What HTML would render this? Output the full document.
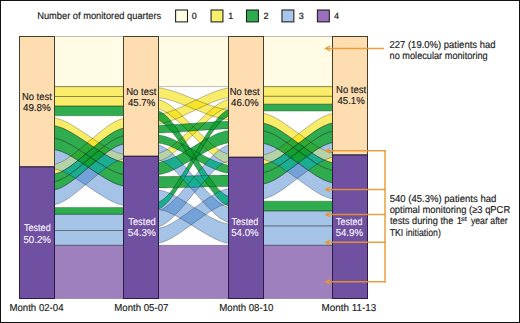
<!DOCTYPE html>
<html><head><meta charset="utf-8"><style>html,body{margin:0;padding:0;background:#fff;overflow:hidden;}svg{display:block;}</style></head>
<body><svg width="520" height="323" viewBox="0 0 520 323">
<style>
text{font-family:"Liberation Sans",sans-serif;font-size:9.5px;text-rendering:geometricPrecision;}
.lb{text-anchor:middle;}
.dk{fill:#222;stroke:#222;stroke-width:0.15px;}
.wt{fill:#f8f4fc;stroke:#f8f4fc;stroke-width:0.1px;}
.f path{fill:none;stroke:#000;stroke-opacity:0.5;stroke-width:0.5;}
</style>
<rect x="0" y="0" width="520" height="323" fill="#fff"/>
<defs><clipPath id="c0NNNT"><path d="M53.5,86.60H124.5V96.50H53.5Z"/></clipPath><clipPath id="c0NNTN"><path d="M53.5,96.50H124.5V106.00H53.5Z"/></clipPath><clipPath id="c0NTNN"><path d="M53.5,117.6 57.3,118.5 60.7,119.5 64.1,120.9 67.5,122.5 71.2,124.6 75.2,127.0 79.6,129.8 84.2,132.8 89.0,136.0 93.8,139.3 98.4,142.3 102.8,145.1 106.8,147.5 110.5,149.5 113.9,151.2 117.3,152.6 120.7,153.6 124.5,154.5 124.5,162.4 120.7,161.5 117.3,160.5 113.9,159.1 110.5,157.5 106.8,155.4 102.8,153.0 98.4,150.2 93.8,147.2 89.0,143.9 84.2,140.7 79.6,137.7 75.2,134.9 71.2,132.5 67.5,130.5 64.1,128.8 60.7,127.4 57.3,126.4 53.5,125.5Z"/></clipPath><clipPath id="c0TNNN"><path d="M53.5,164.6 57.3,163.5 60.7,162.2 64.1,160.5 67.5,158.4 71.2,155.8 75.2,152.8 79.6,149.3 84.2,145.4 89.0,141.3 93.8,137.3 98.4,133.4 102.8,129.9 106.8,126.9 110.5,124.3 113.9,122.2 117.3,120.5 120.7,119.2 124.5,118.1 124.5,127.8 120.7,128.9 117.3,130.2 113.9,131.9 110.5,134.0 106.8,136.6 102.8,139.6 98.4,143.1 93.8,147.0 89.0,151.0 84.2,155.1 79.6,159.0 75.2,162.5 71.2,165.5 67.5,168.1 64.1,170.2 60.7,171.9 57.3,173.2 53.5,174.3Z"/></clipPath><clipPath id="c0NNTT"><path d="M53.5,106.00H124.5V115.80H53.5Z"/></clipPath><clipPath id="c0NTNT"><path d="M53.5,125.5 57.3,126.4 60.7,127.4 64.1,128.8 67.5,130.5 71.2,132.5 75.2,134.9 79.6,137.7 84.2,140.7 89.0,143.9 93.8,147.2 98.4,150.2 102.8,153.0 106.8,155.4 110.5,157.5 113.9,159.1 117.3,160.5 120.7,161.5 124.5,162.4 124.5,174.8 120.7,173.9 117.3,172.9 113.9,171.5 110.5,169.8 106.8,167.8 102.8,165.4 98.4,162.6 93.8,159.6 89.0,156.3 84.2,153.1 79.6,150.1 75.2,147.3 71.2,144.9 67.5,142.8 64.1,141.2 60.7,139.8 57.3,138.8 53.5,137.9Z"/></clipPath><clipPath id="c0NTTN"><path d="M53.5,137.9 57.3,138.8 60.7,139.8 64.1,141.2 67.5,142.8 71.2,144.9 75.2,147.3 79.6,150.1 84.2,153.1 89.0,156.3 93.8,159.6 98.4,162.6 102.8,165.4 106.8,167.8 110.5,169.8 113.9,171.5 117.3,172.9 120.7,173.9 124.5,174.8 124.5,186.2 120.7,185.3 117.3,184.3 113.9,182.9 110.5,181.2 106.8,179.2 102.8,176.8 98.4,174.0 93.8,171.0 89.0,167.8 84.2,164.5 79.6,161.5 75.2,158.7 71.2,156.3 67.5,154.2 64.1,152.6 60.7,151.2 57.3,150.2 53.5,149.3Z"/></clipPath><clipPath id="c0TNNT"><path d="M53.5,174.3 57.3,173.2 60.7,171.9 64.1,170.2 67.5,168.1 71.2,165.5 75.2,162.5 79.6,159.0 84.2,155.1 89.0,151.0 93.8,147.0 98.4,143.1 102.8,139.6 106.8,136.6 110.5,134.0 113.9,131.9 117.3,130.2 120.7,128.9 124.5,127.8 124.5,135.5 120.7,136.6 117.3,137.9 113.9,139.6 110.5,141.7 106.8,144.3 102.8,147.3 98.4,150.8 93.8,154.7 89.0,158.7 84.2,162.8 79.6,166.7 75.2,170.2 71.2,173.2 67.5,175.8 64.1,177.9 60.7,179.6 57.3,180.9 53.5,182.0Z"/></clipPath><clipPath id="c0TNTN"><path d="M53.5,182.0 57.3,180.9 60.7,179.6 64.1,177.9 67.5,175.8 71.2,173.2 75.2,170.2 79.6,166.7 84.2,162.8 89.0,158.7 93.8,154.7 98.4,150.8 102.8,147.3 106.8,144.3 110.5,141.7 113.9,139.6 117.3,137.9 120.7,136.6 124.5,135.5 124.5,143.7 120.7,144.8 117.3,146.1 113.9,147.8 110.5,149.9 106.8,152.5 102.8,155.5 98.4,159.0 93.8,162.9 89.0,166.9 84.2,171.0 79.6,174.9 75.2,178.4 71.2,181.4 67.5,184.0 64.1,186.1 60.7,187.8 57.3,189.1 53.5,190.2Z"/></clipPath><clipPath id="c0TTNN"><path d="M53.5,207.40H124.5V214.30H53.5Z"/></clipPath><clipPath id="c1NNNT"><path d="M157.7,87.7 161.5,88.2 165.0,88.9 168.4,89.7 171.8,90.7 175.5,91.9 179.6,93.4 184.0,95.1 188.7,96.9 193.5,98.9 198.3,100.8 203.0,102.6 207.4,104.3 211.5,105.8 215.2,107.0 218.6,108.0 222.0,108.8 225.5,109.5 229.3,110.0 229.3,119.9 225.5,119.4 222.0,118.7 218.6,117.9 215.2,116.9 211.5,115.7 207.4,114.2 203.0,112.5 198.3,110.7 193.5,108.8 188.7,106.8 184.0,105.0 179.6,103.3 175.5,101.8 171.8,100.6 168.4,99.6 165.0,98.8 161.5,98.1 157.7,97.6Z"/></clipPath><clipPath id="c1NNTN"><path d="M157.7,99.3 161.5,100.5 165.0,102.1 168.4,104.1 171.8,106.6 175.5,109.7 179.6,113.3 184.0,117.5 188.7,122.1 193.5,126.9 198.3,131.7 203.0,136.3 207.4,140.5 211.5,144.1 215.2,147.2 218.6,149.7 222.0,151.7 225.5,153.3 229.3,154.5 229.3,164.0 225.5,162.8 222.0,161.2 218.6,159.2 215.2,156.7 211.5,153.6 207.4,150.0 203.0,145.8 198.3,141.2 193.5,136.4 188.7,131.6 184.0,127.0 179.6,122.8 175.5,119.2 171.8,116.1 168.4,113.6 165.0,111.6 161.5,110.0 157.7,108.8Z"/></clipPath><clipPath id="c1NTNN"><path d="M157.7,153.6 161.5,152.3 165.0,150.8 168.4,148.8 171.8,146.3 175.5,143.3 179.6,139.7 184.0,135.6 188.7,131.1 193.5,126.3 198.3,121.5 203.0,117.0 207.4,112.9 211.5,109.3 215.2,106.3 218.6,103.8 222.0,101.8 225.5,100.3 229.3,99.0 229.3,106.9 225.5,108.2 222.0,109.7 218.6,111.7 215.2,114.2 211.5,117.2 207.4,120.8 203.0,124.9 198.3,129.4 193.5,134.2 188.7,139.0 184.0,143.5 179.6,147.6 175.5,151.2 171.8,154.2 168.4,156.7 165.0,158.7 161.5,160.2 157.7,161.5Z"/></clipPath><clipPath id="c1TNNN"><path d="M157.7,114.5 161.5,113.9 165.0,113.1 168.4,112.1 171.8,110.9 175.5,109.5 179.6,107.7 184.0,105.7 188.7,103.5 193.5,101.2 198.3,98.9 203.0,96.7 207.4,94.7 211.5,92.9 215.2,91.5 218.6,90.3 222.0,89.3 225.5,88.5 229.3,87.9 229.3,97.6 225.5,98.2 222.0,99.0 218.6,100.0 215.2,101.2 211.5,102.6 207.4,104.4 203.0,106.4 198.3,108.6 193.5,110.9 188.7,113.2 184.0,115.4 179.6,117.4 175.5,119.2 171.8,120.6 168.4,121.8 165.0,122.8 161.5,123.6 157.7,124.2Z"/></clipPath><clipPath id="c1NNTT"><path d="M157.7,110.3 161.5,112.3 165.0,114.8 168.4,117.9 171.8,121.9 175.5,126.7 179.6,132.4 184.0,138.9 188.7,146.1 193.5,153.6 198.3,161.1 203.0,168.3 207.4,174.8 211.5,180.5 215.2,185.3 218.6,189.3 222.0,192.4 225.5,194.9 229.3,196.9 229.3,206.7 225.5,204.7 222.0,202.2 218.6,199.1 215.2,195.1 211.5,190.3 207.4,184.6 203.0,178.1 198.3,170.9 193.5,163.4 188.7,155.9 184.0,148.7 179.6,142.2 175.5,136.5 171.8,131.7 168.4,127.7 165.0,124.6 161.5,122.1 157.7,120.1Z"/></clipPath><clipPath id="c1NTNT"><path d="M157.7,162.6 161.5,161.8 165.0,160.9 168.4,159.8 171.8,158.3 175.5,156.5 179.6,154.4 184.0,151.9 188.7,149.3 193.5,146.4 198.3,143.6 203.0,141.0 207.4,138.5 211.5,136.4 215.2,134.6 218.6,133.1 222.0,132.0 225.5,131.1 229.3,130.3 229.3,142.7 225.5,143.5 222.0,144.4 218.6,145.5 215.2,147.0 211.5,148.8 207.4,150.9 203.0,153.4 198.3,156.0 193.5,158.8 188.7,161.7 184.0,164.3 179.6,166.8 175.5,168.9 171.8,170.7 168.4,172.2 165.0,173.3 161.5,174.2 157.7,175.0Z"/></clipPath><clipPath id="c1NTTN"><path d="M157.7,176.5 161.5,176.5 165.0,176.5 168.4,176.4 171.8,176.3 175.5,176.3 179.6,176.2 184.0,176.0 188.7,175.9 193.5,175.8 198.3,175.7 203.0,175.6 207.4,175.4 211.5,175.3 215.2,175.3 218.6,175.2 222.0,175.1 225.5,175.1 229.3,175.1 229.3,186.5 225.5,186.5 222.0,186.5 218.6,186.6 215.2,186.7 211.5,186.7 207.4,186.8 203.0,187.0 198.3,187.1 193.5,187.2 188.7,187.3 184.0,187.4 179.6,187.6 175.5,187.7 171.8,187.7 168.4,187.8 165.0,187.9 161.5,187.9 157.7,187.9Z"/></clipPath><clipPath id="c1TNNT"><path d="M157.7,125.3 161.5,125.2 165.0,125.1 168.4,124.9 171.8,124.8 175.5,124.5 179.6,124.3 184.0,123.9 188.7,123.6 193.5,123.2 198.3,122.9 203.0,122.6 207.4,122.2 211.5,122.0 215.2,121.8 218.6,121.6 222.0,121.4 225.5,121.3 229.3,121.2 229.3,128.9 225.5,129.0 222.0,129.1 218.6,129.3 215.2,129.5 211.5,129.7 207.4,129.9 203.0,130.3 198.3,130.6 193.5,130.9 188.7,131.3 184.0,131.6 179.6,132.0 175.5,132.2 171.8,132.5 168.4,132.6 165.0,132.8 161.5,132.9 157.7,133.0Z"/></clipPath><clipPath id="c1TNTN"><path d="M157.7,134.7 161.5,135.4 165.0,136.3 168.4,137.4 171.8,138.8 175.5,140.5 179.6,142.5 184.0,144.8 188.7,147.3 193.5,150.0 198.3,152.7 203.0,155.2 207.4,157.5 211.5,159.5 215.2,161.2 218.6,162.6 222.0,163.7 225.5,164.6 229.3,165.3 229.3,173.5 225.5,172.8 222.0,171.9 218.6,170.8 215.2,169.4 211.5,167.7 207.4,165.7 203.0,163.4 198.3,160.9 193.5,158.2 188.7,155.5 184.0,153.0 179.6,150.7 175.5,148.7 171.8,147.0 168.4,145.6 165.0,144.5 161.5,143.6 157.7,142.9Z"/></clipPath><clipPath id="c1TTNN"><path d="M157.7,202.7 161.5,200.6 165.0,197.9 168.4,194.5 171.8,190.2 175.5,185.0 179.6,178.8 184.0,171.8 188.7,164.0 193.5,155.8 198.3,147.6 203.0,139.8 207.4,132.8 211.5,126.6 215.2,121.4 218.6,117.1 222.0,113.7 225.5,111.0 229.3,108.9 229.3,115.8 225.5,117.9 222.0,120.6 218.6,124.0 215.2,128.3 211.5,133.5 207.4,139.7 203.0,146.7 198.3,154.5 193.5,162.7 188.7,170.9 184.0,178.7 179.6,185.7 175.5,191.9 171.8,197.1 168.4,201.4 165.0,204.8 161.5,207.5 157.7,209.6Z"/></clipPath><clipPath id="c2NNNT"><path d="M262.5,113.1 266.3,114.0 269.7,115.2 273.1,116.6 276.5,118.4 280.2,120.6 284.2,123.3 288.6,126.3 293.2,129.6 298.0,133.1 302.8,136.5 307.4,139.8 311.8,142.8 315.8,145.5 319.5,147.7 322.9,149.5 326.3,150.9 329.7,152.1 333.5,153.0 333.5,162.9 329.7,162.0 326.3,160.8 322.9,159.4 319.5,157.6 315.8,155.4 311.8,152.7 307.4,149.7 302.8,146.4 298.0,143.0 293.2,139.5 288.6,136.2 284.2,133.2 280.2,130.5 276.5,128.3 273.1,126.5 269.7,125.1 266.3,123.9 262.5,123.0Z"/></clipPath><clipPath id="c2NNTN"><path d="M262.5,155.2 266.3,154.2 269.7,153.0 273.1,151.5 276.5,149.6 280.2,147.3 284.2,144.5 288.6,141.3 293.2,137.9 298.0,134.2 302.8,130.5 307.4,127.1 311.8,123.9 315.8,121.1 319.5,118.8 322.9,116.9 326.3,115.4 329.7,114.2 333.5,113.2 333.5,122.7 329.7,123.7 326.3,124.9 322.9,126.4 319.5,128.3 315.8,130.6 311.8,133.4 307.4,136.6 302.8,140.0 298.0,143.7 293.2,147.4 288.6,150.8 284.2,154.0 280.2,156.8 276.5,159.1 273.1,161.0 269.7,162.5 266.3,163.7 262.5,164.7Z"/></clipPath><clipPath id="c2NTNN"><path d="M262.5,96.30H333.5V104.20H262.5Z"/></clipPath><clipPath id="c2TNNN"><path d="M262.5,86.60H333.5V96.30H262.5Z"/></clipPath><clipPath id="c2NNTT"><path d="M262.5,201.20H333.5V211.00H262.5Z"/></clipPath><clipPath id="c2NTNT"><path d="M262.5,130.7 266.3,131.6 269.7,132.8 273.1,134.2 276.5,136.0 280.2,138.2 284.2,140.9 288.6,143.9 293.2,147.2 298.0,150.7 302.8,154.1 307.4,157.4 311.8,160.4 315.8,163.1 319.5,165.3 322.9,167.1 326.3,168.5 329.7,169.7 333.5,170.6 333.5,183.0 329.7,182.1 326.3,180.9 322.9,179.5 319.5,177.7 315.8,175.5 311.8,172.8 307.4,169.8 302.8,166.5 298.0,163.1 293.2,159.6 288.6,156.3 284.2,153.3 280.2,150.6 276.5,148.4 273.1,146.6 269.7,145.2 266.3,144.0 262.5,143.1Z"/></clipPath><clipPath id="c2NTTN"><path d="M262.5,172.9 266.3,171.9 269.7,170.7 273.1,169.2 276.5,167.3 280.2,165.0 284.2,162.2 288.6,159.0 293.2,155.6 298.0,151.9 302.8,148.2 307.4,144.8 311.8,141.6 315.8,138.8 319.5,136.5 322.9,134.6 326.3,133.1 329.7,131.9 333.5,130.9 333.5,142.3 329.7,143.3 326.3,144.5 322.9,146.0 319.5,147.9 315.8,150.2 311.8,153.0 307.4,156.2 302.8,159.6 298.0,163.3 293.2,167.0 288.6,170.4 284.2,173.6 280.2,176.4 276.5,178.7 273.1,180.6 269.7,182.1 266.3,183.3 262.5,184.3Z"/></clipPath><clipPath id="c2TNNT"><path d="M262.5,123.0 266.3,123.9 269.7,125.1 273.1,126.5 276.5,128.3 280.2,130.5 284.2,133.2 288.6,136.2 293.2,139.5 298.0,143.0 302.8,146.4 307.4,149.7 311.8,152.7 315.8,155.4 319.5,157.6 322.9,159.4 326.3,160.8 329.7,162.0 333.5,162.9 333.5,170.6 329.7,169.7 326.3,168.5 322.9,167.1 319.5,165.3 315.8,163.1 311.8,160.4 307.4,157.4 302.8,154.1 298.0,150.7 293.2,147.2 288.6,143.9 284.2,140.9 280.2,138.2 276.5,136.0 273.1,134.2 269.7,132.8 266.3,131.6 262.5,130.7Z"/></clipPath><clipPath id="c2TNTN"><path d="M262.5,164.7 266.3,163.7 269.7,162.5 273.1,161.0 276.5,159.1 280.2,156.8 284.2,154.0 288.6,150.8 293.2,147.4 298.0,143.7 302.8,140.0 307.4,136.6 311.8,133.4 315.8,130.6 319.5,128.3 322.9,126.4 326.3,124.9 329.7,123.7 333.5,122.7 333.5,130.9 329.7,131.9 326.3,133.1 322.9,134.6 319.5,136.5 315.8,138.8 311.8,141.6 307.4,144.8 302.8,148.2 298.0,151.9 293.2,155.6 288.6,159.0 284.2,162.2 280.2,165.0 276.5,167.3 273.1,169.2 269.7,170.7 266.3,171.9 262.5,172.9Z"/></clipPath><clipPath id="c2TTNN"><path d="M262.5,104.20H333.5V111.10H262.5Z"/></clipPath></defs>
<g><path d="M53.5,36.50H124.5V86.60H53.5Z" fill="#fff7cb" fill-opacity="0.5"/><path d="M53.5,86.60H124.5V96.50H53.5Z" fill="#f5df03" fill-opacity="0.6"/><path d="M53.5,96.50H124.5V106.00H53.5Z" fill="#f5df03" fill-opacity="0.6"/><path d="M53.5,117.6 57.3,118.5 60.7,119.5 64.1,120.9 67.5,122.5 71.2,124.6 75.2,127.0 79.6,129.8 84.2,132.8 89.0,136.0 93.8,139.3 98.4,142.3 102.8,145.1 106.8,147.5 110.5,149.5 113.9,151.2 117.3,152.6 120.7,153.6 124.5,154.5 124.5,162.4 120.7,161.5 117.3,160.5 113.9,159.1 110.5,157.5 106.8,155.4 102.8,153.0 98.4,150.2 93.8,147.2 89.0,143.9 84.2,140.7 79.6,137.7 75.2,134.9 71.2,132.5 67.5,130.5 64.1,128.8 60.7,127.4 57.3,126.4 53.5,125.5Z" fill="#f5df03" fill-opacity="0.6"/><path d="M53.5,164.6 57.3,163.5 60.7,162.2 64.1,160.5 67.5,158.4 71.2,155.8 75.2,152.8 79.6,149.3 84.2,145.4 89.0,141.3 93.8,137.3 98.4,133.4 102.8,129.9 106.8,126.9 110.5,124.3 113.9,122.2 117.3,120.5 120.7,119.2 124.5,118.1 124.5,127.8 120.7,128.9 117.3,130.2 113.9,131.9 110.5,134.0 106.8,136.6 102.8,139.6 98.4,143.1 93.8,147.0 89.0,151.0 84.2,155.1 79.6,159.0 75.2,162.5 71.2,165.5 67.5,168.1 64.1,170.2 60.7,171.9 57.3,173.2 53.5,174.3Z" fill="#f5df03" fill-opacity="0.6"/><path d="M53.5,106.00H124.5V115.80H53.5Z" fill="#0b9d2f" fill-opacity="0.85"/><path d="M53.5,125.5 57.3,126.4 60.7,127.4 64.1,128.8 67.5,130.5 71.2,132.5 75.2,134.9 79.6,137.7 84.2,140.7 89.0,143.9 93.8,147.2 98.4,150.2 102.8,153.0 106.8,155.4 110.5,157.5 113.9,159.1 117.3,160.5 120.7,161.5 124.5,162.4 124.5,174.8 120.7,173.9 117.3,172.9 113.9,171.5 110.5,169.8 106.8,167.8 102.8,165.4 98.4,162.6 93.8,159.6 89.0,156.3 84.2,153.1 79.6,150.1 75.2,147.3 71.2,144.9 67.5,142.8 64.1,141.2 60.7,139.8 57.3,138.8 53.5,137.9Z" fill="#0b9d2f" fill-opacity="0.85"/><path d="M53.5,137.9 57.3,138.8 60.7,139.8 64.1,141.2 67.5,142.8 71.2,144.9 75.2,147.3 79.6,150.1 84.2,153.1 89.0,156.3 93.8,159.6 98.4,162.6 102.8,165.4 106.8,167.8 110.5,169.8 113.9,171.5 117.3,172.9 120.7,173.9 124.5,174.8 124.5,186.2 120.7,185.3 117.3,184.3 113.9,182.9 110.5,181.2 106.8,179.2 102.8,176.8 98.4,174.0 93.8,171.0 89.0,167.8 84.2,164.5 79.6,161.5 75.2,158.7 71.2,156.3 67.5,154.2 64.1,152.6 60.7,151.2 57.3,150.2 53.5,149.3Z" fill="#0b9d2f" fill-opacity="0.85"/><path d="M53.5,174.3 57.3,173.2 60.7,171.9 64.1,170.2 67.5,168.1 71.2,165.5 75.2,162.5 79.6,159.0 84.2,155.1 89.0,151.0 93.8,147.0 98.4,143.1 102.8,139.6 106.8,136.6 110.5,134.0 113.9,131.9 117.3,130.2 120.7,128.9 124.5,127.8 124.5,135.5 120.7,136.6 117.3,137.9 113.9,139.6 110.5,141.7 106.8,144.3 102.8,147.3 98.4,150.8 93.8,154.7 89.0,158.7 84.2,162.8 79.6,166.7 75.2,170.2 71.2,173.2 67.5,175.8 64.1,177.9 60.7,179.6 57.3,180.9 53.5,182.0Z" fill="#0b9d2f" fill-opacity="0.85"/><path d="M53.5,182.0 57.3,180.9 60.7,179.6 64.1,177.9 67.5,175.8 71.2,173.2 75.2,170.2 79.6,166.7 84.2,162.8 89.0,158.7 93.8,154.7 98.4,150.8 102.8,147.3 106.8,144.3 110.5,141.7 113.9,139.6 117.3,137.9 120.7,136.6 124.5,135.5 124.5,143.7 120.7,144.8 117.3,146.1 113.9,147.8 110.5,149.9 106.8,152.5 102.8,155.5 98.4,159.0 93.8,162.9 89.0,166.9 84.2,171.0 79.6,174.9 75.2,178.4 71.2,181.4 67.5,184.0 64.1,186.1 60.7,187.8 57.3,189.1 53.5,190.2Z" fill="#0b9d2f" fill-opacity="0.85"/><path d="M53.5,207.40H124.5V214.30H53.5Z" fill="#0b9d2f" fill-opacity="0.85"/><path d="M53.5,149.3 57.3,150.2 60.7,151.2 64.1,152.6 67.5,154.2 71.2,156.3 75.2,158.7 79.6,161.5 84.2,164.5 89.0,167.8 93.8,171.0 98.4,174.0 102.8,176.8 106.8,179.2 110.5,181.2 113.9,182.9 117.3,184.3 120.7,185.3 124.5,186.2 124.5,205.6 120.7,204.7 117.3,203.7 113.9,202.3 110.5,200.7 106.8,198.6 102.8,196.2 98.4,193.4 93.8,190.4 89.0,187.2 84.2,183.9 79.6,180.9 75.2,178.1 71.2,175.7 67.5,173.7 64.1,172.0 60.7,170.6 57.3,169.6 53.5,168.7Z" fill="#377ac7" fill-opacity="0.45"/><path d="M53.5,190.2 57.3,189.1 60.7,187.8 64.1,186.1 67.5,184.0 71.2,181.4 75.2,178.4 79.6,174.9 84.2,171.0 89.0,166.9 93.8,162.9 98.4,159.0 102.8,155.5 106.8,152.5 110.5,149.9 113.9,147.8 117.3,146.1 120.7,144.8 124.5,143.7 124.5,158.6 120.7,159.7 117.3,161.0 113.9,162.7 110.5,164.8 106.8,167.4 102.8,170.4 98.4,173.9 93.8,177.8 89.0,181.8 84.2,185.9 79.6,189.8 75.2,193.3 71.2,196.3 67.5,198.9 64.1,201.0 60.7,202.7 57.3,204.0 53.5,205.1Z" fill="#377ac7" fill-opacity="0.45"/><path d="M53.5,214.30H124.5V230.50H53.5Z" fill="#377ac7" fill-opacity="0.45"/><path d="M53.5,230.50H124.5V245.30H53.5Z" fill="#377ac7" fill-opacity="0.45"/><path d="M53.5,245.30H124.5V298.50H53.5Z" fill="#5d2b93" fill-opacity="0.6"/><path d="M157.5,36.50H229.5V86.60H157.5Z" fill="#fff7cb" fill-opacity="0.5"/><path d="M157.7,87.7 161.5,88.2 165.0,88.9 168.4,89.7 171.8,90.7 175.5,91.9 179.6,93.4 184.0,95.1 188.7,96.9 193.5,98.9 198.3,100.8 203.0,102.6 207.4,104.3 211.5,105.8 215.2,107.0 218.6,108.0 222.0,108.8 225.5,109.5 229.3,110.0 229.3,119.9 225.5,119.4 222.0,118.7 218.6,117.9 215.2,116.9 211.5,115.7 207.4,114.2 203.0,112.5 198.3,110.7 193.5,108.8 188.7,106.8 184.0,105.0 179.6,103.3 175.5,101.8 171.8,100.6 168.4,99.6 165.0,98.8 161.5,98.1 157.7,97.6Z" fill="#f5df03" fill-opacity="0.6"/><path d="M157.7,99.3 161.5,100.5 165.0,102.1 168.4,104.1 171.8,106.6 175.5,109.7 179.6,113.3 184.0,117.5 188.7,122.1 193.5,126.9 198.3,131.7 203.0,136.3 207.4,140.5 211.5,144.1 215.2,147.2 218.6,149.7 222.0,151.7 225.5,153.3 229.3,154.5 229.3,164.0 225.5,162.8 222.0,161.2 218.6,159.2 215.2,156.7 211.5,153.6 207.4,150.0 203.0,145.8 198.3,141.2 193.5,136.4 188.7,131.6 184.0,127.0 179.6,122.8 175.5,119.2 171.8,116.1 168.4,113.6 165.0,111.6 161.5,110.0 157.7,108.8Z" fill="#f5df03" fill-opacity="0.6"/><path d="M157.7,153.6 161.5,152.3 165.0,150.8 168.4,148.8 171.8,146.3 175.5,143.3 179.6,139.7 184.0,135.6 188.7,131.1 193.5,126.3 198.3,121.5 203.0,117.0 207.4,112.9 211.5,109.3 215.2,106.3 218.6,103.8 222.0,101.8 225.5,100.3 229.3,99.0 229.3,106.9 225.5,108.2 222.0,109.7 218.6,111.7 215.2,114.2 211.5,117.2 207.4,120.8 203.0,124.9 198.3,129.4 193.5,134.2 188.7,139.0 184.0,143.5 179.6,147.6 175.5,151.2 171.8,154.2 168.4,156.7 165.0,158.7 161.5,160.2 157.7,161.5Z" fill="#f5df03" fill-opacity="0.6"/><path d="M157.7,114.5 161.5,113.9 165.0,113.1 168.4,112.1 171.8,110.9 175.5,109.5 179.6,107.7 184.0,105.7 188.7,103.5 193.5,101.2 198.3,98.9 203.0,96.7 207.4,94.7 211.5,92.9 215.2,91.5 218.6,90.3 222.0,89.3 225.5,88.5 229.3,87.9 229.3,97.6 225.5,98.2 222.0,99.0 218.6,100.0 215.2,101.2 211.5,102.6 207.4,104.4 203.0,106.4 198.3,108.6 193.5,110.9 188.7,113.2 184.0,115.4 179.6,117.4 175.5,119.2 171.8,120.6 168.4,121.8 165.0,122.8 161.5,123.6 157.7,124.2Z" fill="#f5df03" fill-opacity="0.6"/><path d="M157.7,110.3 161.5,112.3 165.0,114.8 168.4,117.9 171.8,121.9 175.5,126.7 179.6,132.4 184.0,138.9 188.7,146.1 193.5,153.6 198.3,161.1 203.0,168.3 207.4,174.8 211.5,180.5 215.2,185.3 218.6,189.3 222.0,192.4 225.5,194.9 229.3,196.9 229.3,206.7 225.5,204.7 222.0,202.2 218.6,199.1 215.2,195.1 211.5,190.3 207.4,184.6 203.0,178.1 198.3,170.9 193.5,163.4 188.7,155.9 184.0,148.7 179.6,142.2 175.5,136.5 171.8,131.7 168.4,127.7 165.0,124.6 161.5,122.1 157.7,120.1Z" fill="#0b9d2f" fill-opacity="0.85"/><path d="M157.7,162.6 161.5,161.8 165.0,160.9 168.4,159.8 171.8,158.3 175.5,156.5 179.6,154.4 184.0,151.9 188.7,149.3 193.5,146.4 198.3,143.6 203.0,141.0 207.4,138.5 211.5,136.4 215.2,134.6 218.6,133.1 222.0,132.0 225.5,131.1 229.3,130.3 229.3,142.7 225.5,143.5 222.0,144.4 218.6,145.5 215.2,147.0 211.5,148.8 207.4,150.9 203.0,153.4 198.3,156.0 193.5,158.8 188.7,161.7 184.0,164.3 179.6,166.8 175.5,168.9 171.8,170.7 168.4,172.2 165.0,173.3 161.5,174.2 157.7,175.0Z" fill="#0b9d2f" fill-opacity="0.85"/><path d="M157.7,176.5 161.5,176.5 165.0,176.5 168.4,176.4 171.8,176.3 175.5,176.3 179.6,176.2 184.0,176.0 188.7,175.9 193.5,175.8 198.3,175.7 203.0,175.6 207.4,175.4 211.5,175.3 215.2,175.3 218.6,175.2 222.0,175.1 225.5,175.1 229.3,175.1 229.3,186.5 225.5,186.5 222.0,186.5 218.6,186.6 215.2,186.7 211.5,186.7 207.4,186.8 203.0,187.0 198.3,187.1 193.5,187.2 188.7,187.3 184.0,187.4 179.6,187.6 175.5,187.7 171.8,187.7 168.4,187.8 165.0,187.9 161.5,187.9 157.7,187.9Z" fill="#0b9d2f" fill-opacity="0.85"/><path d="M157.7,125.3 161.5,125.2 165.0,125.1 168.4,124.9 171.8,124.8 175.5,124.5 179.6,124.3 184.0,123.9 188.7,123.6 193.5,123.2 198.3,122.9 203.0,122.6 207.4,122.2 211.5,122.0 215.2,121.8 218.6,121.6 222.0,121.4 225.5,121.3 229.3,121.2 229.3,128.9 225.5,129.0 222.0,129.1 218.6,129.3 215.2,129.5 211.5,129.7 207.4,129.9 203.0,130.3 198.3,130.6 193.5,130.9 188.7,131.3 184.0,131.6 179.6,132.0 175.5,132.2 171.8,132.5 168.4,132.6 165.0,132.8 161.5,132.9 157.7,133.0Z" fill="#0b9d2f" fill-opacity="0.85"/><path d="M157.7,134.7 161.5,135.4 165.0,136.3 168.4,137.4 171.8,138.8 175.5,140.5 179.6,142.5 184.0,144.8 188.7,147.3 193.5,150.0 198.3,152.7 203.0,155.2 207.4,157.5 211.5,159.5 215.2,161.2 218.6,162.6 222.0,163.7 225.5,164.6 229.3,165.3 229.3,173.5 225.5,172.8 222.0,171.9 218.6,170.8 215.2,169.4 211.5,167.7 207.4,165.7 203.0,163.4 198.3,160.9 193.5,158.2 188.7,155.5 184.0,153.0 179.6,150.7 175.5,148.7 171.8,147.0 168.4,145.6 165.0,144.5 161.5,143.6 157.7,142.9Z" fill="#0b9d2f" fill-opacity="0.85"/><path d="M157.7,202.7 161.5,200.6 165.0,197.9 168.4,194.5 171.8,190.2 175.5,185.0 179.6,178.8 184.0,171.8 188.7,164.0 193.5,155.8 198.3,147.6 203.0,139.8 207.4,132.8 211.5,126.6 215.2,121.4 218.6,117.1 222.0,113.7 225.5,111.0 229.3,108.9 229.3,115.8 225.5,117.9 222.0,120.6 218.6,124.0 215.2,128.3 211.5,133.5 207.4,139.7 203.0,146.7 198.3,154.5 193.5,162.7 188.7,170.9 184.0,178.7 179.6,185.7 175.5,191.9 171.8,197.1 168.4,201.4 165.0,204.8 161.5,207.5 157.7,209.6Z" fill="#0b9d2f" fill-opacity="0.85"/><path d="M157.7,189.7 161.5,190.5 165.0,191.5 168.4,192.8 171.8,194.3 175.5,196.2 179.6,198.5 184.0,201.1 188.7,203.9 193.5,207.0 198.3,210.0 203.0,212.8 207.4,215.4 211.5,217.7 215.2,219.6 218.6,221.1 222.0,222.4 225.5,223.4 229.3,224.2 229.3,243.6 225.5,242.8 222.0,241.8 218.6,240.5 215.2,239.0 211.5,237.1 207.4,234.8 203.0,232.2 198.3,229.4 193.5,226.4 188.7,223.3 184.0,220.5 179.6,217.9 175.5,215.6 171.8,213.7 168.4,212.2 165.0,210.9 161.5,209.9 157.7,209.1Z" fill="#377ac7" fill-opacity="0.45"/><path d="M157.7,144.6 161.5,146.0 165.0,147.8 168.4,150.1 171.8,153.0 175.5,156.5 179.6,160.7 184.0,165.4 188.7,170.7 193.5,176.2 198.3,181.7 203.0,187.0 207.4,191.7 211.5,195.9 215.2,199.4 218.6,202.3 222.0,204.6 225.5,206.4 229.3,207.8 229.3,222.7 225.5,221.3 222.0,219.5 218.6,217.2 215.2,214.3 211.5,210.8 207.4,206.6 203.0,201.9 198.3,196.6 193.5,191.1 188.7,185.6 184.0,180.3 179.6,175.6 175.5,171.4 171.8,167.9 168.4,165.0 165.0,162.7 161.5,160.9 157.7,159.5Z" fill="#377ac7" fill-opacity="0.45"/><path d="M157.7,211.0 161.5,209.4 165.0,207.5 168.4,205.1 171.8,202.1 175.5,198.4 179.6,194.0 184.0,189.0 188.7,183.5 193.5,177.7 198.3,171.9 203.0,166.4 207.4,161.4 211.5,157.0 215.2,153.3 218.6,150.3 222.0,147.9 225.5,146.0 229.3,144.4 229.3,160.6 225.5,162.2 222.0,164.1 218.6,166.5 215.2,169.5 211.5,173.2 207.4,177.6 203.0,182.6 198.3,188.1 193.5,193.9 188.7,199.7 184.0,205.2 179.6,210.2 175.5,214.6 171.8,218.3 168.4,221.3 165.0,223.7 161.5,225.6 157.7,227.2Z" fill="#377ac7" fill-opacity="0.45"/><path d="M157.7,228.5 161.5,227.6 165.0,226.4 168.4,225.0 171.8,223.2 175.5,220.9 179.6,218.3 184.0,215.3 188.7,211.9 193.5,208.4 198.3,205.0 203.0,201.6 207.4,198.6 211.5,196.0 215.2,193.8 218.6,191.9 222.0,190.5 225.5,189.3 229.3,188.4 229.3,203.2 225.5,204.1 222.0,205.3 218.6,206.7 215.2,208.6 211.5,210.8 207.4,213.4 203.0,216.4 198.3,219.8 193.5,223.3 188.7,226.7 184.0,230.1 179.6,233.1 175.5,235.7 171.8,238.0 168.4,239.8 165.0,241.2 161.5,242.4 157.7,243.3Z" fill="#377ac7" fill-opacity="0.45"/><path d="M157.5,245.30H229.5V298.50H157.5Z" fill="#5d2b93" fill-opacity="0.6"/><path d="M262.5,36.50H333.5V86.60H262.5Z" fill="#fff7cb" fill-opacity="0.5"/><path d="M262.5,113.1 266.3,114.0 269.7,115.2 273.1,116.6 276.5,118.4 280.2,120.6 284.2,123.3 288.6,126.3 293.2,129.6 298.0,133.1 302.8,136.5 307.4,139.8 311.8,142.8 315.8,145.5 319.5,147.7 322.9,149.5 326.3,150.9 329.7,152.1 333.5,153.0 333.5,162.9 329.7,162.0 326.3,160.8 322.9,159.4 319.5,157.6 315.8,155.4 311.8,152.7 307.4,149.7 302.8,146.4 298.0,143.0 293.2,139.5 288.6,136.2 284.2,133.2 280.2,130.5 276.5,128.3 273.1,126.5 269.7,125.1 266.3,123.9 262.5,123.0Z" fill="#f5df03" fill-opacity="0.6"/><path d="M262.5,155.2 266.3,154.2 269.7,153.0 273.1,151.5 276.5,149.6 280.2,147.3 284.2,144.5 288.6,141.3 293.2,137.9 298.0,134.2 302.8,130.5 307.4,127.1 311.8,123.9 315.8,121.1 319.5,118.8 322.9,116.9 326.3,115.4 329.7,114.2 333.5,113.2 333.5,122.7 329.7,123.7 326.3,124.9 322.9,126.4 319.5,128.3 315.8,130.6 311.8,133.4 307.4,136.6 302.8,140.0 298.0,143.7 293.2,147.4 288.6,150.8 284.2,154.0 280.2,156.8 276.5,159.1 273.1,161.0 269.7,162.5 266.3,163.7 262.5,164.7Z" fill="#f5df03" fill-opacity="0.6"/><path d="M262.5,96.30H333.5V104.20H262.5Z" fill="#f5df03" fill-opacity="0.6"/><path d="M262.5,86.60H333.5V96.30H262.5Z" fill="#f5df03" fill-opacity="0.6"/><path d="M262.5,201.20H333.5V211.00H262.5Z" fill="#0b9d2f" fill-opacity="0.85"/><path d="M262.5,130.7 266.3,131.6 269.7,132.8 273.1,134.2 276.5,136.0 280.2,138.2 284.2,140.9 288.6,143.9 293.2,147.2 298.0,150.7 302.8,154.1 307.4,157.4 311.8,160.4 315.8,163.1 319.5,165.3 322.9,167.1 326.3,168.5 329.7,169.7 333.5,170.6 333.5,183.0 329.7,182.1 326.3,180.9 322.9,179.5 319.5,177.7 315.8,175.5 311.8,172.8 307.4,169.8 302.8,166.5 298.0,163.1 293.2,159.6 288.6,156.3 284.2,153.3 280.2,150.6 276.5,148.4 273.1,146.6 269.7,145.2 266.3,144.0 262.5,143.1Z" fill="#0b9d2f" fill-opacity="0.85"/><path d="M262.5,172.9 266.3,171.9 269.7,170.7 273.1,169.2 276.5,167.3 280.2,165.0 284.2,162.2 288.6,159.0 293.2,155.6 298.0,151.9 302.8,148.2 307.4,144.8 311.8,141.6 315.8,138.8 319.5,136.5 322.9,134.6 326.3,133.1 329.7,131.9 333.5,130.9 333.5,142.3 329.7,143.3 326.3,144.5 322.9,146.0 319.5,147.9 315.8,150.2 311.8,153.0 307.4,156.2 302.8,159.6 298.0,163.3 293.2,167.0 288.6,170.4 284.2,173.6 280.2,176.4 276.5,178.7 273.1,180.6 269.7,182.1 266.3,183.3 262.5,184.3Z" fill="#0b9d2f" fill-opacity="0.85"/><path d="M262.5,123.0 266.3,123.9 269.7,125.1 273.1,126.5 276.5,128.3 280.2,130.5 284.2,133.2 288.6,136.2 293.2,139.5 298.0,143.0 302.8,146.4 307.4,149.7 311.8,152.7 315.8,155.4 319.5,157.6 322.9,159.4 326.3,160.8 329.7,162.0 333.5,162.9 333.5,170.6 329.7,169.7 326.3,168.5 322.9,167.1 319.5,165.3 315.8,163.1 311.8,160.4 307.4,157.4 302.8,154.1 298.0,150.7 293.2,147.2 288.6,143.9 284.2,140.9 280.2,138.2 276.5,136.0 273.1,134.2 269.7,132.8 266.3,131.6 262.5,130.7Z" fill="#0b9d2f" fill-opacity="0.85"/><path d="M262.5,164.7 266.3,163.7 269.7,162.5 273.1,161.0 276.5,159.1 280.2,156.8 284.2,154.0 288.6,150.8 293.2,147.4 298.0,143.7 302.8,140.0 307.4,136.6 311.8,133.4 315.8,130.6 319.5,128.3 322.9,126.4 326.3,124.9 329.7,123.7 333.5,122.7 333.5,130.9 329.7,131.9 326.3,133.1 322.9,134.6 319.5,136.5 315.8,138.8 311.8,141.6 307.4,144.8 302.8,148.2 298.0,151.9 293.2,155.6 288.6,159.0 284.2,162.2 280.2,165.0 276.5,167.3 273.1,169.2 269.7,170.7 266.3,171.9 262.5,172.9Z" fill="#0b9d2f" fill-opacity="0.85"/><path d="M262.5,104.20H333.5V111.10H262.5Z" fill="#0b9d2f" fill-opacity="0.85"/><path d="M262.5,225.90H333.5V245.30H262.5Z" fill="#377ac7" fill-opacity="0.45"/><path d="M262.5,211.00H333.5V225.90H262.5Z" fill="#377ac7" fill-opacity="0.45"/><path d="M262.5,143.1 266.3,144.0 269.7,145.2 273.1,146.6 276.5,148.4 280.2,150.6 284.2,153.3 288.6,156.3 293.2,159.6 298.0,163.1 302.8,166.5 307.4,169.8 311.8,172.8 315.8,175.5 319.5,177.7 322.9,179.5 326.3,180.9 329.7,182.1 333.5,183.0 333.5,199.2 329.7,198.3 326.3,197.1 322.9,195.7 319.5,193.9 315.8,191.7 311.8,189.0 307.4,186.0 302.8,182.7 298.0,179.2 293.2,175.8 288.6,172.5 284.2,169.5 280.2,166.8 276.5,164.6 273.1,162.8 269.7,161.4 266.3,160.2 262.5,159.3Z" fill="#377ac7" fill-opacity="0.45"/><path d="M262.5,184.3 266.3,183.3 269.7,182.1 273.1,180.6 276.5,178.7 280.2,176.4 284.2,173.6 288.6,170.4 293.2,167.0 298.0,163.3 302.8,159.6 307.4,156.2 311.8,153.0 315.8,150.2 319.5,147.9 322.9,146.0 326.3,144.5 329.7,143.3 333.5,142.3 333.5,157.1 329.7,158.1 326.3,159.3 322.9,160.8 319.5,162.7 315.8,165.0 311.8,167.8 307.4,171.0 302.8,174.4 298.0,178.1 293.2,181.8 288.6,185.2 284.2,188.4 280.2,191.2 276.5,193.5 273.1,195.4 269.7,196.9 266.3,198.1 262.5,199.1Z" fill="#377ac7" fill-opacity="0.45"/><path d="M262.5,245.30H333.5V298.50H262.5Z" fill="#5d2b93" fill-opacity="0.6"/></g>
<g><path d="M53.5,149.3 57.3,150.2 60.7,151.2 64.1,152.6 67.5,154.2 71.2,156.3 75.2,158.7 79.6,161.5 84.2,164.5 89.0,167.8 93.8,171.0 98.4,174.0 102.8,176.8 106.8,179.2 110.5,181.2 113.9,182.9 117.3,184.3 120.7,185.3 124.5,186.2 124.5,205.6 120.7,204.7 117.3,203.7 113.9,202.3 110.5,200.7 106.8,198.6 102.8,196.2 98.4,193.4 93.8,190.4 89.0,187.2 84.2,183.9 79.6,180.9 75.2,178.1 71.2,175.7 67.5,173.7 64.1,172.0 60.7,170.6 57.3,169.6 53.5,168.7Z" clip-path="url(#c0NNNT)" fill="#bcd8ae" fill-opacity="0.8"/><path d="M53.5,149.3 57.3,150.2 60.7,151.2 64.1,152.6 67.5,154.2 71.2,156.3 75.2,158.7 79.6,161.5 84.2,164.5 89.0,167.8 93.8,171.0 98.4,174.0 102.8,176.8 106.8,179.2 110.5,181.2 113.9,182.9 117.3,184.3 120.7,185.3 124.5,186.2 124.5,205.6 120.7,204.7 117.3,203.7 113.9,202.3 110.5,200.7 106.8,198.6 102.8,196.2 98.4,193.4 93.8,190.4 89.0,187.2 84.2,183.9 79.6,180.9 75.2,178.1 71.2,175.7 67.5,173.7 64.1,172.0 60.7,170.6 57.3,169.6 53.5,168.7Z" clip-path="url(#c0NNTN)" fill="#bcd8ae" fill-opacity="0.8"/><path d="M53.5,149.3 57.3,150.2 60.7,151.2 64.1,152.6 67.5,154.2 71.2,156.3 75.2,158.7 79.6,161.5 84.2,164.5 89.0,167.8 93.8,171.0 98.4,174.0 102.8,176.8 106.8,179.2 110.5,181.2 113.9,182.9 117.3,184.3 120.7,185.3 124.5,186.2 124.5,205.6 120.7,204.7 117.3,203.7 113.9,202.3 110.5,200.7 106.8,198.6 102.8,196.2 98.4,193.4 93.8,190.4 89.0,187.2 84.2,183.9 79.6,180.9 75.2,178.1 71.2,175.7 67.5,173.7 64.1,172.0 60.7,170.6 57.3,169.6 53.5,168.7Z" clip-path="url(#c0NTNN)" fill="#bcd8ae" fill-opacity="0.8"/><path d="M53.5,149.3 57.3,150.2 60.7,151.2 64.1,152.6 67.5,154.2 71.2,156.3 75.2,158.7 79.6,161.5 84.2,164.5 89.0,167.8 93.8,171.0 98.4,174.0 102.8,176.8 106.8,179.2 110.5,181.2 113.9,182.9 117.3,184.3 120.7,185.3 124.5,186.2 124.5,205.6 120.7,204.7 117.3,203.7 113.9,202.3 110.5,200.7 106.8,198.6 102.8,196.2 98.4,193.4 93.8,190.4 89.0,187.2 84.2,183.9 79.6,180.9 75.2,178.1 71.2,175.7 67.5,173.7 64.1,172.0 60.7,170.6 57.3,169.6 53.5,168.7Z" clip-path="url(#c0TNNN)" fill="#bcd8ae" fill-opacity="0.8"/><path d="M53.5,149.3 57.3,150.2 60.7,151.2 64.1,152.6 67.5,154.2 71.2,156.3 75.2,158.7 79.6,161.5 84.2,164.5 89.0,167.8 93.8,171.0 98.4,174.0 102.8,176.8 106.8,179.2 110.5,181.2 113.9,182.9 117.3,184.3 120.7,185.3 124.5,186.2 124.5,205.6 120.7,204.7 117.3,203.7 113.9,202.3 110.5,200.7 106.8,198.6 102.8,196.2 98.4,193.4 93.8,190.4 89.0,187.2 84.2,183.9 79.6,180.9 75.2,178.1 71.2,175.7 67.5,173.7 64.1,172.0 60.7,170.6 57.3,169.6 53.5,168.7Z" clip-path="url(#c0NNTT)" fill="#17b293" fill-opacity="0.8"/><path d="M53.5,149.3 57.3,150.2 60.7,151.2 64.1,152.6 67.5,154.2 71.2,156.3 75.2,158.7 79.6,161.5 84.2,164.5 89.0,167.8 93.8,171.0 98.4,174.0 102.8,176.8 106.8,179.2 110.5,181.2 113.9,182.9 117.3,184.3 120.7,185.3 124.5,186.2 124.5,205.6 120.7,204.7 117.3,203.7 113.9,202.3 110.5,200.7 106.8,198.6 102.8,196.2 98.4,193.4 93.8,190.4 89.0,187.2 84.2,183.9 79.6,180.9 75.2,178.1 71.2,175.7 67.5,173.7 64.1,172.0 60.7,170.6 57.3,169.6 53.5,168.7Z" clip-path="url(#c0NTNT)" fill="#17b293" fill-opacity="0.8"/><path d="M53.5,149.3 57.3,150.2 60.7,151.2 64.1,152.6 67.5,154.2 71.2,156.3 75.2,158.7 79.6,161.5 84.2,164.5 89.0,167.8 93.8,171.0 98.4,174.0 102.8,176.8 106.8,179.2 110.5,181.2 113.9,182.9 117.3,184.3 120.7,185.3 124.5,186.2 124.5,205.6 120.7,204.7 117.3,203.7 113.9,202.3 110.5,200.7 106.8,198.6 102.8,196.2 98.4,193.4 93.8,190.4 89.0,187.2 84.2,183.9 79.6,180.9 75.2,178.1 71.2,175.7 67.5,173.7 64.1,172.0 60.7,170.6 57.3,169.6 53.5,168.7Z" clip-path="url(#c0NTTN)" fill="#17b293" fill-opacity="0.8"/><path d="M53.5,149.3 57.3,150.2 60.7,151.2 64.1,152.6 67.5,154.2 71.2,156.3 75.2,158.7 79.6,161.5 84.2,164.5 89.0,167.8 93.8,171.0 98.4,174.0 102.8,176.8 106.8,179.2 110.5,181.2 113.9,182.9 117.3,184.3 120.7,185.3 124.5,186.2 124.5,205.6 120.7,204.7 117.3,203.7 113.9,202.3 110.5,200.7 106.8,198.6 102.8,196.2 98.4,193.4 93.8,190.4 89.0,187.2 84.2,183.9 79.6,180.9 75.2,178.1 71.2,175.7 67.5,173.7 64.1,172.0 60.7,170.6 57.3,169.6 53.5,168.7Z" clip-path="url(#c0TNNT)" fill="#17b293" fill-opacity="0.8"/><path d="M53.5,149.3 57.3,150.2 60.7,151.2 64.1,152.6 67.5,154.2 71.2,156.3 75.2,158.7 79.6,161.5 84.2,164.5 89.0,167.8 93.8,171.0 98.4,174.0 102.8,176.8 106.8,179.2 110.5,181.2 113.9,182.9 117.3,184.3 120.7,185.3 124.5,186.2 124.5,205.6 120.7,204.7 117.3,203.7 113.9,202.3 110.5,200.7 106.8,198.6 102.8,196.2 98.4,193.4 93.8,190.4 89.0,187.2 84.2,183.9 79.6,180.9 75.2,178.1 71.2,175.7 67.5,173.7 64.1,172.0 60.7,170.6 57.3,169.6 53.5,168.7Z" clip-path="url(#c0TNTN)" fill="#17b293" fill-opacity="0.8"/><path d="M53.5,149.3 57.3,150.2 60.7,151.2 64.1,152.6 67.5,154.2 71.2,156.3 75.2,158.7 79.6,161.5 84.2,164.5 89.0,167.8 93.8,171.0 98.4,174.0 102.8,176.8 106.8,179.2 110.5,181.2 113.9,182.9 117.3,184.3 120.7,185.3 124.5,186.2 124.5,205.6 120.7,204.7 117.3,203.7 113.9,202.3 110.5,200.7 106.8,198.6 102.8,196.2 98.4,193.4 93.8,190.4 89.0,187.2 84.2,183.9 79.6,180.9 75.2,178.1 71.2,175.7 67.5,173.7 64.1,172.0 60.7,170.6 57.3,169.6 53.5,168.7Z" clip-path="url(#c0TTNN)" fill="#17b293" fill-opacity="0.8"/><path d="M53.5,190.2 57.3,189.1 60.7,187.8 64.1,186.1 67.5,184.0 71.2,181.4 75.2,178.4 79.6,174.9 84.2,171.0 89.0,166.9 93.8,162.9 98.4,159.0 102.8,155.5 106.8,152.5 110.5,149.9 113.9,147.8 117.3,146.1 120.7,144.8 124.5,143.7 124.5,158.6 120.7,159.7 117.3,161.0 113.9,162.7 110.5,164.8 106.8,167.4 102.8,170.4 98.4,173.9 93.8,177.8 89.0,181.8 84.2,185.9 79.6,189.8 75.2,193.3 71.2,196.3 67.5,198.9 64.1,201.0 60.7,202.7 57.3,204.0 53.5,205.1Z" clip-path="url(#c0NNNT)" fill="#bcd8ae" fill-opacity="0.8"/><path d="M53.5,190.2 57.3,189.1 60.7,187.8 64.1,186.1 67.5,184.0 71.2,181.4 75.2,178.4 79.6,174.9 84.2,171.0 89.0,166.9 93.8,162.9 98.4,159.0 102.8,155.5 106.8,152.5 110.5,149.9 113.9,147.8 117.3,146.1 120.7,144.8 124.5,143.7 124.5,158.6 120.7,159.7 117.3,161.0 113.9,162.7 110.5,164.8 106.8,167.4 102.8,170.4 98.4,173.9 93.8,177.8 89.0,181.8 84.2,185.9 79.6,189.8 75.2,193.3 71.2,196.3 67.5,198.9 64.1,201.0 60.7,202.7 57.3,204.0 53.5,205.1Z" clip-path="url(#c0NNTN)" fill="#bcd8ae" fill-opacity="0.8"/><path d="M53.5,190.2 57.3,189.1 60.7,187.8 64.1,186.1 67.5,184.0 71.2,181.4 75.2,178.4 79.6,174.9 84.2,171.0 89.0,166.9 93.8,162.9 98.4,159.0 102.8,155.5 106.8,152.5 110.5,149.9 113.9,147.8 117.3,146.1 120.7,144.8 124.5,143.7 124.5,158.6 120.7,159.7 117.3,161.0 113.9,162.7 110.5,164.8 106.8,167.4 102.8,170.4 98.4,173.9 93.8,177.8 89.0,181.8 84.2,185.9 79.6,189.8 75.2,193.3 71.2,196.3 67.5,198.9 64.1,201.0 60.7,202.7 57.3,204.0 53.5,205.1Z" clip-path="url(#c0NTNN)" fill="#bcd8ae" fill-opacity="0.8"/><path d="M53.5,190.2 57.3,189.1 60.7,187.8 64.1,186.1 67.5,184.0 71.2,181.4 75.2,178.4 79.6,174.9 84.2,171.0 89.0,166.9 93.8,162.9 98.4,159.0 102.8,155.5 106.8,152.5 110.5,149.9 113.9,147.8 117.3,146.1 120.7,144.8 124.5,143.7 124.5,158.6 120.7,159.7 117.3,161.0 113.9,162.7 110.5,164.8 106.8,167.4 102.8,170.4 98.4,173.9 93.8,177.8 89.0,181.8 84.2,185.9 79.6,189.8 75.2,193.3 71.2,196.3 67.5,198.9 64.1,201.0 60.7,202.7 57.3,204.0 53.5,205.1Z" clip-path="url(#c0TNNN)" fill="#bcd8ae" fill-opacity="0.8"/><path d="M53.5,190.2 57.3,189.1 60.7,187.8 64.1,186.1 67.5,184.0 71.2,181.4 75.2,178.4 79.6,174.9 84.2,171.0 89.0,166.9 93.8,162.9 98.4,159.0 102.8,155.5 106.8,152.5 110.5,149.9 113.9,147.8 117.3,146.1 120.7,144.8 124.5,143.7 124.5,158.6 120.7,159.7 117.3,161.0 113.9,162.7 110.5,164.8 106.8,167.4 102.8,170.4 98.4,173.9 93.8,177.8 89.0,181.8 84.2,185.9 79.6,189.8 75.2,193.3 71.2,196.3 67.5,198.9 64.1,201.0 60.7,202.7 57.3,204.0 53.5,205.1Z" clip-path="url(#c0NNTT)" fill="#17b293" fill-opacity="0.8"/><path d="M53.5,190.2 57.3,189.1 60.7,187.8 64.1,186.1 67.5,184.0 71.2,181.4 75.2,178.4 79.6,174.9 84.2,171.0 89.0,166.9 93.8,162.9 98.4,159.0 102.8,155.5 106.8,152.5 110.5,149.9 113.9,147.8 117.3,146.1 120.7,144.8 124.5,143.7 124.5,158.6 120.7,159.7 117.3,161.0 113.9,162.7 110.5,164.8 106.8,167.4 102.8,170.4 98.4,173.9 93.8,177.8 89.0,181.8 84.2,185.9 79.6,189.8 75.2,193.3 71.2,196.3 67.5,198.9 64.1,201.0 60.7,202.7 57.3,204.0 53.5,205.1Z" clip-path="url(#c0NTNT)" fill="#17b293" fill-opacity="0.8"/><path d="M53.5,190.2 57.3,189.1 60.7,187.8 64.1,186.1 67.5,184.0 71.2,181.4 75.2,178.4 79.6,174.9 84.2,171.0 89.0,166.9 93.8,162.9 98.4,159.0 102.8,155.5 106.8,152.5 110.5,149.9 113.9,147.8 117.3,146.1 120.7,144.8 124.5,143.7 124.5,158.6 120.7,159.7 117.3,161.0 113.9,162.7 110.5,164.8 106.8,167.4 102.8,170.4 98.4,173.9 93.8,177.8 89.0,181.8 84.2,185.9 79.6,189.8 75.2,193.3 71.2,196.3 67.5,198.9 64.1,201.0 60.7,202.7 57.3,204.0 53.5,205.1Z" clip-path="url(#c0NTTN)" fill="#17b293" fill-opacity="0.8"/><path d="M53.5,190.2 57.3,189.1 60.7,187.8 64.1,186.1 67.5,184.0 71.2,181.4 75.2,178.4 79.6,174.9 84.2,171.0 89.0,166.9 93.8,162.9 98.4,159.0 102.8,155.5 106.8,152.5 110.5,149.9 113.9,147.8 117.3,146.1 120.7,144.8 124.5,143.7 124.5,158.6 120.7,159.7 117.3,161.0 113.9,162.7 110.5,164.8 106.8,167.4 102.8,170.4 98.4,173.9 93.8,177.8 89.0,181.8 84.2,185.9 79.6,189.8 75.2,193.3 71.2,196.3 67.5,198.9 64.1,201.0 60.7,202.7 57.3,204.0 53.5,205.1Z" clip-path="url(#c0TNNT)" fill="#17b293" fill-opacity="0.8"/><path d="M53.5,190.2 57.3,189.1 60.7,187.8 64.1,186.1 67.5,184.0 71.2,181.4 75.2,178.4 79.6,174.9 84.2,171.0 89.0,166.9 93.8,162.9 98.4,159.0 102.8,155.5 106.8,152.5 110.5,149.9 113.9,147.8 117.3,146.1 120.7,144.8 124.5,143.7 124.5,158.6 120.7,159.7 117.3,161.0 113.9,162.7 110.5,164.8 106.8,167.4 102.8,170.4 98.4,173.9 93.8,177.8 89.0,181.8 84.2,185.9 79.6,189.8 75.2,193.3 71.2,196.3 67.5,198.9 64.1,201.0 60.7,202.7 57.3,204.0 53.5,205.1Z" clip-path="url(#c0TNTN)" fill="#17b293" fill-opacity="0.8"/><path d="M53.5,190.2 57.3,189.1 60.7,187.8 64.1,186.1 67.5,184.0 71.2,181.4 75.2,178.4 79.6,174.9 84.2,171.0 89.0,166.9 93.8,162.9 98.4,159.0 102.8,155.5 106.8,152.5 110.5,149.9 113.9,147.8 117.3,146.1 120.7,144.8 124.5,143.7 124.5,158.6 120.7,159.7 117.3,161.0 113.9,162.7 110.5,164.8 106.8,167.4 102.8,170.4 98.4,173.9 93.8,177.8 89.0,181.8 84.2,185.9 79.6,189.8 75.2,193.3 71.2,196.3 67.5,198.9 64.1,201.0 60.7,202.7 57.3,204.0 53.5,205.1Z" clip-path="url(#c0TTNN)" fill="#17b293" fill-opacity="0.8"/><path d="M53.5,214.30H124.5V230.50H53.5Z" clip-path="url(#c0NNNT)" fill="#bcd8ae" fill-opacity="0.8"/><path d="M53.5,214.30H124.5V230.50H53.5Z" clip-path="url(#c0NNTN)" fill="#bcd8ae" fill-opacity="0.8"/><path d="M53.5,214.30H124.5V230.50H53.5Z" clip-path="url(#c0NTNN)" fill="#bcd8ae" fill-opacity="0.8"/><path d="M53.5,214.30H124.5V230.50H53.5Z" clip-path="url(#c0TNNN)" fill="#bcd8ae" fill-opacity="0.8"/><path d="M53.5,214.30H124.5V230.50H53.5Z" clip-path="url(#c0NNTT)" fill="#17b293" fill-opacity="0.8"/><path d="M53.5,214.30H124.5V230.50H53.5Z" clip-path="url(#c0NTNT)" fill="#17b293" fill-opacity="0.8"/><path d="M53.5,214.30H124.5V230.50H53.5Z" clip-path="url(#c0NTTN)" fill="#17b293" fill-opacity="0.8"/><path d="M53.5,214.30H124.5V230.50H53.5Z" clip-path="url(#c0TNNT)" fill="#17b293" fill-opacity="0.8"/><path d="M53.5,214.30H124.5V230.50H53.5Z" clip-path="url(#c0TNTN)" fill="#17b293" fill-opacity="0.8"/><path d="M53.5,214.30H124.5V230.50H53.5Z" clip-path="url(#c0TTNN)" fill="#17b293" fill-opacity="0.8"/><path d="M53.5,230.50H124.5V245.30H53.5Z" clip-path="url(#c0NNNT)" fill="#bcd8ae" fill-opacity="0.8"/><path d="M53.5,230.50H124.5V245.30H53.5Z" clip-path="url(#c0NNTN)" fill="#bcd8ae" fill-opacity="0.8"/><path d="M53.5,230.50H124.5V245.30H53.5Z" clip-path="url(#c0NTNN)" fill="#bcd8ae" fill-opacity="0.8"/><path d="M53.5,230.50H124.5V245.30H53.5Z" clip-path="url(#c0TNNN)" fill="#bcd8ae" fill-opacity="0.8"/><path d="M53.5,230.50H124.5V245.30H53.5Z" clip-path="url(#c0NNTT)" fill="#17b293" fill-opacity="0.8"/><path d="M53.5,230.50H124.5V245.30H53.5Z" clip-path="url(#c0NTNT)" fill="#17b293" fill-opacity="0.8"/><path d="M53.5,230.50H124.5V245.30H53.5Z" clip-path="url(#c0NTTN)" fill="#17b293" fill-opacity="0.8"/><path d="M53.5,230.50H124.5V245.30H53.5Z" clip-path="url(#c0TNNT)" fill="#17b293" fill-opacity="0.8"/><path d="M53.5,230.50H124.5V245.30H53.5Z" clip-path="url(#c0TNTN)" fill="#17b293" fill-opacity="0.8"/><path d="M53.5,230.50H124.5V245.30H53.5Z" clip-path="url(#c0TTNN)" fill="#17b293" fill-opacity="0.8"/><path d="M157.7,189.7 161.5,190.5 165.0,191.5 168.4,192.8 171.8,194.3 175.5,196.2 179.6,198.5 184.0,201.1 188.7,203.9 193.5,207.0 198.3,210.0 203.0,212.8 207.4,215.4 211.5,217.7 215.2,219.6 218.6,221.1 222.0,222.4 225.5,223.4 229.3,224.2 229.3,243.6 225.5,242.8 222.0,241.8 218.6,240.5 215.2,239.0 211.5,237.1 207.4,234.8 203.0,232.2 198.3,229.4 193.5,226.4 188.7,223.3 184.0,220.5 179.6,217.9 175.5,215.6 171.8,213.7 168.4,212.2 165.0,210.9 161.5,209.9 157.7,209.1Z" clip-path="url(#c1NNNT)" fill="#bcd8ae" fill-opacity="0.8"/><path d="M157.7,189.7 161.5,190.5 165.0,191.5 168.4,192.8 171.8,194.3 175.5,196.2 179.6,198.5 184.0,201.1 188.7,203.9 193.5,207.0 198.3,210.0 203.0,212.8 207.4,215.4 211.5,217.7 215.2,219.6 218.6,221.1 222.0,222.4 225.5,223.4 229.3,224.2 229.3,243.6 225.5,242.8 222.0,241.8 218.6,240.5 215.2,239.0 211.5,237.1 207.4,234.8 203.0,232.2 198.3,229.4 193.5,226.4 188.7,223.3 184.0,220.5 179.6,217.9 175.5,215.6 171.8,213.7 168.4,212.2 165.0,210.9 161.5,209.9 157.7,209.1Z" clip-path="url(#c1NNTN)" fill="#bcd8ae" fill-opacity="0.8"/><path d="M157.7,189.7 161.5,190.5 165.0,191.5 168.4,192.8 171.8,194.3 175.5,196.2 179.6,198.5 184.0,201.1 188.7,203.9 193.5,207.0 198.3,210.0 203.0,212.8 207.4,215.4 211.5,217.7 215.2,219.6 218.6,221.1 222.0,222.4 225.5,223.4 229.3,224.2 229.3,243.6 225.5,242.8 222.0,241.8 218.6,240.5 215.2,239.0 211.5,237.1 207.4,234.8 203.0,232.2 198.3,229.4 193.5,226.4 188.7,223.3 184.0,220.5 179.6,217.9 175.5,215.6 171.8,213.7 168.4,212.2 165.0,210.9 161.5,209.9 157.7,209.1Z" clip-path="url(#c1NTNN)" fill="#bcd8ae" fill-opacity="0.8"/><path d="M157.7,189.7 161.5,190.5 165.0,191.5 168.4,192.8 171.8,194.3 175.5,196.2 179.6,198.5 184.0,201.1 188.7,203.9 193.5,207.0 198.3,210.0 203.0,212.8 207.4,215.4 211.5,217.7 215.2,219.6 218.6,221.1 222.0,222.4 225.5,223.4 229.3,224.2 229.3,243.6 225.5,242.8 222.0,241.8 218.6,240.5 215.2,239.0 211.5,237.1 207.4,234.8 203.0,232.2 198.3,229.4 193.5,226.4 188.7,223.3 184.0,220.5 179.6,217.9 175.5,215.6 171.8,213.7 168.4,212.2 165.0,210.9 161.5,209.9 157.7,209.1Z" clip-path="url(#c1TNNN)" fill="#bcd8ae" fill-opacity="0.8"/><path d="M157.7,189.7 161.5,190.5 165.0,191.5 168.4,192.8 171.8,194.3 175.5,196.2 179.6,198.5 184.0,201.1 188.7,203.9 193.5,207.0 198.3,210.0 203.0,212.8 207.4,215.4 211.5,217.7 215.2,219.6 218.6,221.1 222.0,222.4 225.5,223.4 229.3,224.2 229.3,243.6 225.5,242.8 222.0,241.8 218.6,240.5 215.2,239.0 211.5,237.1 207.4,234.8 203.0,232.2 198.3,229.4 193.5,226.4 188.7,223.3 184.0,220.5 179.6,217.9 175.5,215.6 171.8,213.7 168.4,212.2 165.0,210.9 161.5,209.9 157.7,209.1Z" clip-path="url(#c1NNTT)" fill="#17b293" fill-opacity="0.8"/><path d="M157.7,189.7 161.5,190.5 165.0,191.5 168.4,192.8 171.8,194.3 175.5,196.2 179.6,198.5 184.0,201.1 188.7,203.9 193.5,207.0 198.3,210.0 203.0,212.8 207.4,215.4 211.5,217.7 215.2,219.6 218.6,221.1 222.0,222.4 225.5,223.4 229.3,224.2 229.3,243.6 225.5,242.8 222.0,241.8 218.6,240.5 215.2,239.0 211.5,237.1 207.4,234.8 203.0,232.2 198.3,229.4 193.5,226.4 188.7,223.3 184.0,220.5 179.6,217.9 175.5,215.6 171.8,213.7 168.4,212.2 165.0,210.9 161.5,209.9 157.7,209.1Z" clip-path="url(#c1NTNT)" fill="#17b293" fill-opacity="0.8"/><path d="M157.7,189.7 161.5,190.5 165.0,191.5 168.4,192.8 171.8,194.3 175.5,196.2 179.6,198.5 184.0,201.1 188.7,203.9 193.5,207.0 198.3,210.0 203.0,212.8 207.4,215.4 211.5,217.7 215.2,219.6 218.6,221.1 222.0,222.4 225.5,223.4 229.3,224.2 229.3,243.6 225.5,242.8 222.0,241.8 218.6,240.5 215.2,239.0 211.5,237.1 207.4,234.8 203.0,232.2 198.3,229.4 193.5,226.4 188.7,223.3 184.0,220.5 179.6,217.9 175.5,215.6 171.8,213.7 168.4,212.2 165.0,210.9 161.5,209.9 157.7,209.1Z" clip-path="url(#c1NTTN)" fill="#17b293" fill-opacity="0.8"/><path d="M157.7,189.7 161.5,190.5 165.0,191.5 168.4,192.8 171.8,194.3 175.5,196.2 179.6,198.5 184.0,201.1 188.7,203.9 193.5,207.0 198.3,210.0 203.0,212.8 207.4,215.4 211.5,217.7 215.2,219.6 218.6,221.1 222.0,222.4 225.5,223.4 229.3,224.2 229.3,243.6 225.5,242.8 222.0,241.8 218.6,240.5 215.2,239.0 211.5,237.1 207.4,234.8 203.0,232.2 198.3,229.4 193.5,226.4 188.7,223.3 184.0,220.5 179.6,217.9 175.5,215.6 171.8,213.7 168.4,212.2 165.0,210.9 161.5,209.9 157.7,209.1Z" clip-path="url(#c1TNNT)" fill="#17b293" fill-opacity="0.8"/><path d="M157.7,189.7 161.5,190.5 165.0,191.5 168.4,192.8 171.8,194.3 175.5,196.2 179.6,198.5 184.0,201.1 188.7,203.9 193.5,207.0 198.3,210.0 203.0,212.8 207.4,215.4 211.5,217.7 215.2,219.6 218.6,221.1 222.0,222.4 225.5,223.4 229.3,224.2 229.3,243.6 225.5,242.8 222.0,241.8 218.6,240.5 215.2,239.0 211.5,237.1 207.4,234.8 203.0,232.2 198.3,229.4 193.5,226.4 188.7,223.3 184.0,220.5 179.6,217.9 175.5,215.6 171.8,213.7 168.4,212.2 165.0,210.9 161.5,209.9 157.7,209.1Z" clip-path="url(#c1TNTN)" fill="#17b293" fill-opacity="0.8"/><path d="M157.7,189.7 161.5,190.5 165.0,191.5 168.4,192.8 171.8,194.3 175.5,196.2 179.6,198.5 184.0,201.1 188.7,203.9 193.5,207.0 198.3,210.0 203.0,212.8 207.4,215.4 211.5,217.7 215.2,219.6 218.6,221.1 222.0,222.4 225.5,223.4 229.3,224.2 229.3,243.6 225.5,242.8 222.0,241.8 218.6,240.5 215.2,239.0 211.5,237.1 207.4,234.8 203.0,232.2 198.3,229.4 193.5,226.4 188.7,223.3 184.0,220.5 179.6,217.9 175.5,215.6 171.8,213.7 168.4,212.2 165.0,210.9 161.5,209.9 157.7,209.1Z" clip-path="url(#c1TTNN)" fill="#17b293" fill-opacity="0.8"/><path d="M157.7,144.6 161.5,146.0 165.0,147.8 168.4,150.1 171.8,153.0 175.5,156.5 179.6,160.7 184.0,165.4 188.7,170.7 193.5,176.2 198.3,181.7 203.0,187.0 207.4,191.7 211.5,195.9 215.2,199.4 218.6,202.3 222.0,204.6 225.5,206.4 229.3,207.8 229.3,222.7 225.5,221.3 222.0,219.5 218.6,217.2 215.2,214.3 211.5,210.8 207.4,206.6 203.0,201.9 198.3,196.6 193.5,191.1 188.7,185.6 184.0,180.3 179.6,175.6 175.5,171.4 171.8,167.9 168.4,165.0 165.0,162.7 161.5,160.9 157.7,159.5Z" clip-path="url(#c1NNNT)" fill="#bcd8ae" fill-opacity="0.8"/><path d="M157.7,144.6 161.5,146.0 165.0,147.8 168.4,150.1 171.8,153.0 175.5,156.5 179.6,160.7 184.0,165.4 188.7,170.7 193.5,176.2 198.3,181.7 203.0,187.0 207.4,191.7 211.5,195.9 215.2,199.4 218.6,202.3 222.0,204.6 225.5,206.4 229.3,207.8 229.3,222.7 225.5,221.3 222.0,219.5 218.6,217.2 215.2,214.3 211.5,210.8 207.4,206.6 203.0,201.9 198.3,196.6 193.5,191.1 188.7,185.6 184.0,180.3 179.6,175.6 175.5,171.4 171.8,167.9 168.4,165.0 165.0,162.7 161.5,160.9 157.7,159.5Z" clip-path="url(#c1NNTN)" fill="#bcd8ae" fill-opacity="0.8"/><path d="M157.7,144.6 161.5,146.0 165.0,147.8 168.4,150.1 171.8,153.0 175.5,156.5 179.6,160.7 184.0,165.4 188.7,170.7 193.5,176.2 198.3,181.7 203.0,187.0 207.4,191.7 211.5,195.9 215.2,199.4 218.6,202.3 222.0,204.6 225.5,206.4 229.3,207.8 229.3,222.7 225.5,221.3 222.0,219.5 218.6,217.2 215.2,214.3 211.5,210.8 207.4,206.6 203.0,201.9 198.3,196.6 193.5,191.1 188.7,185.6 184.0,180.3 179.6,175.6 175.5,171.4 171.8,167.9 168.4,165.0 165.0,162.7 161.5,160.9 157.7,159.5Z" clip-path="url(#c1NTNN)" fill="#bcd8ae" fill-opacity="0.8"/><path d="M157.7,144.6 161.5,146.0 165.0,147.8 168.4,150.1 171.8,153.0 175.5,156.5 179.6,160.7 184.0,165.4 188.7,170.7 193.5,176.2 198.3,181.7 203.0,187.0 207.4,191.7 211.5,195.9 215.2,199.4 218.6,202.3 222.0,204.6 225.5,206.4 229.3,207.8 229.3,222.7 225.5,221.3 222.0,219.5 218.6,217.2 215.2,214.3 211.5,210.8 207.4,206.6 203.0,201.9 198.3,196.6 193.5,191.1 188.7,185.6 184.0,180.3 179.6,175.6 175.5,171.4 171.8,167.9 168.4,165.0 165.0,162.7 161.5,160.9 157.7,159.5Z" clip-path="url(#c1TNNN)" fill="#bcd8ae" fill-opacity="0.8"/><path d="M157.7,144.6 161.5,146.0 165.0,147.8 168.4,150.1 171.8,153.0 175.5,156.5 179.6,160.7 184.0,165.4 188.7,170.7 193.5,176.2 198.3,181.7 203.0,187.0 207.4,191.7 211.5,195.9 215.2,199.4 218.6,202.3 222.0,204.6 225.5,206.4 229.3,207.8 229.3,222.7 225.5,221.3 222.0,219.5 218.6,217.2 215.2,214.3 211.5,210.8 207.4,206.6 203.0,201.9 198.3,196.6 193.5,191.1 188.7,185.6 184.0,180.3 179.6,175.6 175.5,171.4 171.8,167.9 168.4,165.0 165.0,162.7 161.5,160.9 157.7,159.5Z" clip-path="url(#c1NNTT)" fill="#17b293" fill-opacity="0.8"/><path d="M157.7,144.6 161.5,146.0 165.0,147.8 168.4,150.1 171.8,153.0 175.5,156.5 179.6,160.7 184.0,165.4 188.7,170.7 193.5,176.2 198.3,181.7 203.0,187.0 207.4,191.7 211.5,195.9 215.2,199.4 218.6,202.3 222.0,204.6 225.5,206.4 229.3,207.8 229.3,222.7 225.5,221.3 222.0,219.5 218.6,217.2 215.2,214.3 211.5,210.8 207.4,206.6 203.0,201.9 198.3,196.6 193.5,191.1 188.7,185.6 184.0,180.3 179.6,175.6 175.5,171.4 171.8,167.9 168.4,165.0 165.0,162.7 161.5,160.9 157.7,159.5Z" clip-path="url(#c1NTNT)" fill="#17b293" fill-opacity="0.8"/><path d="M157.7,144.6 161.5,146.0 165.0,147.8 168.4,150.1 171.8,153.0 175.5,156.5 179.6,160.7 184.0,165.4 188.7,170.7 193.5,176.2 198.3,181.7 203.0,187.0 207.4,191.7 211.5,195.9 215.2,199.4 218.6,202.3 222.0,204.6 225.5,206.4 229.3,207.8 229.3,222.7 225.5,221.3 222.0,219.5 218.6,217.2 215.2,214.3 211.5,210.8 207.4,206.6 203.0,201.9 198.3,196.6 193.5,191.1 188.7,185.6 184.0,180.3 179.6,175.6 175.5,171.4 171.8,167.9 168.4,165.0 165.0,162.7 161.5,160.9 157.7,159.5Z" clip-path="url(#c1NTTN)" fill="#17b293" fill-opacity="0.8"/><path d="M157.7,144.6 161.5,146.0 165.0,147.8 168.4,150.1 171.8,153.0 175.5,156.5 179.6,160.7 184.0,165.4 188.7,170.7 193.5,176.2 198.3,181.7 203.0,187.0 207.4,191.7 211.5,195.9 215.2,199.4 218.6,202.3 222.0,204.6 225.5,206.4 229.3,207.8 229.3,222.7 225.5,221.3 222.0,219.5 218.6,217.2 215.2,214.3 211.5,210.8 207.4,206.6 203.0,201.9 198.3,196.6 193.5,191.1 188.7,185.6 184.0,180.3 179.6,175.6 175.5,171.4 171.8,167.9 168.4,165.0 165.0,162.7 161.5,160.9 157.7,159.5Z" clip-path="url(#c1TNNT)" fill="#17b293" fill-opacity="0.8"/><path d="M157.7,144.6 161.5,146.0 165.0,147.8 168.4,150.1 171.8,153.0 175.5,156.5 179.6,160.7 184.0,165.4 188.7,170.7 193.5,176.2 198.3,181.7 203.0,187.0 207.4,191.7 211.5,195.9 215.2,199.4 218.6,202.3 222.0,204.6 225.5,206.4 229.3,207.8 229.3,222.7 225.5,221.3 222.0,219.5 218.6,217.2 215.2,214.3 211.5,210.8 207.4,206.6 203.0,201.9 198.3,196.6 193.5,191.1 188.7,185.6 184.0,180.3 179.6,175.6 175.5,171.4 171.8,167.9 168.4,165.0 165.0,162.7 161.5,160.9 157.7,159.5Z" clip-path="url(#c1TNTN)" fill="#17b293" fill-opacity="0.8"/><path d="M157.7,144.6 161.5,146.0 165.0,147.8 168.4,150.1 171.8,153.0 175.5,156.5 179.6,160.7 184.0,165.4 188.7,170.7 193.5,176.2 198.3,181.7 203.0,187.0 207.4,191.7 211.5,195.9 215.2,199.4 218.6,202.3 222.0,204.6 225.5,206.4 229.3,207.8 229.3,222.7 225.5,221.3 222.0,219.5 218.6,217.2 215.2,214.3 211.5,210.8 207.4,206.6 203.0,201.9 198.3,196.6 193.5,191.1 188.7,185.6 184.0,180.3 179.6,175.6 175.5,171.4 171.8,167.9 168.4,165.0 165.0,162.7 161.5,160.9 157.7,159.5Z" clip-path="url(#c1TTNN)" fill="#17b293" fill-opacity="0.8"/><path d="M157.7,211.0 161.5,209.4 165.0,207.5 168.4,205.1 171.8,202.1 175.5,198.4 179.6,194.0 184.0,189.0 188.7,183.5 193.5,177.7 198.3,171.9 203.0,166.4 207.4,161.4 211.5,157.0 215.2,153.3 218.6,150.3 222.0,147.9 225.5,146.0 229.3,144.4 229.3,160.6 225.5,162.2 222.0,164.1 218.6,166.5 215.2,169.5 211.5,173.2 207.4,177.6 203.0,182.6 198.3,188.1 193.5,193.9 188.7,199.7 184.0,205.2 179.6,210.2 175.5,214.6 171.8,218.3 168.4,221.3 165.0,223.7 161.5,225.6 157.7,227.2Z" clip-path="url(#c1NNNT)" fill="#bcd8ae" fill-opacity="0.8"/><path d="M157.7,211.0 161.5,209.4 165.0,207.5 168.4,205.1 171.8,202.1 175.5,198.4 179.6,194.0 184.0,189.0 188.7,183.5 193.5,177.7 198.3,171.9 203.0,166.4 207.4,161.4 211.5,157.0 215.2,153.3 218.6,150.3 222.0,147.9 225.5,146.0 229.3,144.4 229.3,160.6 225.5,162.2 222.0,164.1 218.6,166.5 215.2,169.5 211.5,173.2 207.4,177.6 203.0,182.6 198.3,188.1 193.5,193.9 188.7,199.7 184.0,205.2 179.6,210.2 175.5,214.6 171.8,218.3 168.4,221.3 165.0,223.7 161.5,225.6 157.7,227.2Z" clip-path="url(#c1NNTN)" fill="#bcd8ae" fill-opacity="0.8"/><path d="M157.7,211.0 161.5,209.4 165.0,207.5 168.4,205.1 171.8,202.1 175.5,198.4 179.6,194.0 184.0,189.0 188.7,183.5 193.5,177.7 198.3,171.9 203.0,166.4 207.4,161.4 211.5,157.0 215.2,153.3 218.6,150.3 222.0,147.9 225.5,146.0 229.3,144.4 229.3,160.6 225.5,162.2 222.0,164.1 218.6,166.5 215.2,169.5 211.5,173.2 207.4,177.6 203.0,182.6 198.3,188.1 193.5,193.9 188.7,199.7 184.0,205.2 179.6,210.2 175.5,214.6 171.8,218.3 168.4,221.3 165.0,223.7 161.5,225.6 157.7,227.2Z" clip-path="url(#c1NTNN)" fill="#bcd8ae" fill-opacity="0.8"/><path d="M157.7,211.0 161.5,209.4 165.0,207.5 168.4,205.1 171.8,202.1 175.5,198.4 179.6,194.0 184.0,189.0 188.7,183.5 193.5,177.7 198.3,171.9 203.0,166.4 207.4,161.4 211.5,157.0 215.2,153.3 218.6,150.3 222.0,147.9 225.5,146.0 229.3,144.4 229.3,160.6 225.5,162.2 222.0,164.1 218.6,166.5 215.2,169.5 211.5,173.2 207.4,177.6 203.0,182.6 198.3,188.1 193.5,193.9 188.7,199.7 184.0,205.2 179.6,210.2 175.5,214.6 171.8,218.3 168.4,221.3 165.0,223.7 161.5,225.6 157.7,227.2Z" clip-path="url(#c1TNNN)" fill="#bcd8ae" fill-opacity="0.8"/><path d="M157.7,211.0 161.5,209.4 165.0,207.5 168.4,205.1 171.8,202.1 175.5,198.4 179.6,194.0 184.0,189.0 188.7,183.5 193.5,177.7 198.3,171.9 203.0,166.4 207.4,161.4 211.5,157.0 215.2,153.3 218.6,150.3 222.0,147.9 225.5,146.0 229.3,144.4 229.3,160.6 225.5,162.2 222.0,164.1 218.6,166.5 215.2,169.5 211.5,173.2 207.4,177.6 203.0,182.6 198.3,188.1 193.5,193.9 188.7,199.7 184.0,205.2 179.6,210.2 175.5,214.6 171.8,218.3 168.4,221.3 165.0,223.7 161.5,225.6 157.7,227.2Z" clip-path="url(#c1NNTT)" fill="#17b293" fill-opacity="0.8"/><path d="M157.7,211.0 161.5,209.4 165.0,207.5 168.4,205.1 171.8,202.1 175.5,198.4 179.6,194.0 184.0,189.0 188.7,183.5 193.5,177.7 198.3,171.9 203.0,166.4 207.4,161.4 211.5,157.0 215.2,153.3 218.6,150.3 222.0,147.9 225.5,146.0 229.3,144.4 229.3,160.6 225.5,162.2 222.0,164.1 218.6,166.5 215.2,169.5 211.5,173.2 207.4,177.6 203.0,182.6 198.3,188.1 193.5,193.9 188.7,199.7 184.0,205.2 179.6,210.2 175.5,214.6 171.8,218.3 168.4,221.3 165.0,223.7 161.5,225.6 157.7,227.2Z" clip-path="url(#c1NTNT)" fill="#17b293" fill-opacity="0.8"/><path d="M157.7,211.0 161.5,209.4 165.0,207.5 168.4,205.1 171.8,202.1 175.5,198.4 179.6,194.0 184.0,189.0 188.7,183.5 193.5,177.7 198.3,171.9 203.0,166.4 207.4,161.4 211.5,157.0 215.2,153.3 218.6,150.3 222.0,147.9 225.5,146.0 229.3,144.4 229.3,160.6 225.5,162.2 222.0,164.1 218.6,166.5 215.2,169.5 211.5,173.2 207.4,177.6 203.0,182.6 198.3,188.1 193.5,193.9 188.7,199.7 184.0,205.2 179.6,210.2 175.5,214.6 171.8,218.3 168.4,221.3 165.0,223.7 161.5,225.6 157.7,227.2Z" clip-path="url(#c1NTTN)" fill="#17b293" fill-opacity="0.8"/><path d="M157.7,211.0 161.5,209.4 165.0,207.5 168.4,205.1 171.8,202.1 175.5,198.4 179.6,194.0 184.0,189.0 188.7,183.5 193.5,177.7 198.3,171.9 203.0,166.4 207.4,161.4 211.5,157.0 215.2,153.3 218.6,150.3 222.0,147.9 225.5,146.0 229.3,144.4 229.3,160.6 225.5,162.2 222.0,164.1 218.6,166.5 215.2,169.5 211.5,173.2 207.4,177.6 203.0,182.6 198.3,188.1 193.5,193.9 188.7,199.7 184.0,205.2 179.6,210.2 175.5,214.6 171.8,218.3 168.4,221.3 165.0,223.7 161.5,225.6 157.7,227.2Z" clip-path="url(#c1TNNT)" fill="#17b293" fill-opacity="0.8"/><path d="M157.7,211.0 161.5,209.4 165.0,207.5 168.4,205.1 171.8,202.1 175.5,198.4 179.6,194.0 184.0,189.0 188.7,183.5 193.5,177.7 198.3,171.9 203.0,166.4 207.4,161.4 211.5,157.0 215.2,153.3 218.6,150.3 222.0,147.9 225.5,146.0 229.3,144.4 229.3,160.6 225.5,162.2 222.0,164.1 218.6,166.5 215.2,169.5 211.5,173.2 207.4,177.6 203.0,182.6 198.3,188.1 193.5,193.9 188.7,199.7 184.0,205.2 179.6,210.2 175.5,214.6 171.8,218.3 168.4,221.3 165.0,223.7 161.5,225.6 157.7,227.2Z" clip-path="url(#c1TNTN)" fill="#17b293" fill-opacity="0.8"/><path d="M157.7,211.0 161.5,209.4 165.0,207.5 168.4,205.1 171.8,202.1 175.5,198.4 179.6,194.0 184.0,189.0 188.7,183.5 193.5,177.7 198.3,171.9 203.0,166.4 207.4,161.4 211.5,157.0 215.2,153.3 218.6,150.3 222.0,147.9 225.5,146.0 229.3,144.4 229.3,160.6 225.5,162.2 222.0,164.1 218.6,166.5 215.2,169.5 211.5,173.2 207.4,177.6 203.0,182.6 198.3,188.1 193.5,193.9 188.7,199.7 184.0,205.2 179.6,210.2 175.5,214.6 171.8,218.3 168.4,221.3 165.0,223.7 161.5,225.6 157.7,227.2Z" clip-path="url(#c1TTNN)" fill="#17b293" fill-opacity="0.8"/><path d="M157.7,228.5 161.5,227.6 165.0,226.4 168.4,225.0 171.8,223.2 175.5,220.9 179.6,218.3 184.0,215.3 188.7,211.9 193.5,208.4 198.3,205.0 203.0,201.6 207.4,198.6 211.5,196.0 215.2,193.8 218.6,191.9 222.0,190.5 225.5,189.3 229.3,188.4 229.3,203.2 225.5,204.1 222.0,205.3 218.6,206.7 215.2,208.6 211.5,210.8 207.4,213.4 203.0,216.4 198.3,219.8 193.5,223.3 188.7,226.7 184.0,230.1 179.6,233.1 175.5,235.7 171.8,238.0 168.4,239.8 165.0,241.2 161.5,242.4 157.7,243.3Z" clip-path="url(#c1NNNT)" fill="#bcd8ae" fill-opacity="0.8"/><path d="M157.7,228.5 161.5,227.6 165.0,226.4 168.4,225.0 171.8,223.2 175.5,220.9 179.6,218.3 184.0,215.3 188.7,211.9 193.5,208.4 198.3,205.0 203.0,201.6 207.4,198.6 211.5,196.0 215.2,193.8 218.6,191.9 222.0,190.5 225.5,189.3 229.3,188.4 229.3,203.2 225.5,204.1 222.0,205.3 218.6,206.7 215.2,208.6 211.5,210.8 207.4,213.4 203.0,216.4 198.3,219.8 193.5,223.3 188.7,226.7 184.0,230.1 179.6,233.1 175.5,235.7 171.8,238.0 168.4,239.8 165.0,241.2 161.5,242.4 157.7,243.3Z" clip-path="url(#c1NNTN)" fill="#bcd8ae" fill-opacity="0.8"/><path d="M157.7,228.5 161.5,227.6 165.0,226.4 168.4,225.0 171.8,223.2 175.5,220.9 179.6,218.3 184.0,215.3 188.7,211.9 193.5,208.4 198.3,205.0 203.0,201.6 207.4,198.6 211.5,196.0 215.2,193.8 218.6,191.9 222.0,190.5 225.5,189.3 229.3,188.4 229.3,203.2 225.5,204.1 222.0,205.3 218.6,206.7 215.2,208.6 211.5,210.8 207.4,213.4 203.0,216.4 198.3,219.8 193.5,223.3 188.7,226.7 184.0,230.1 179.6,233.1 175.5,235.7 171.8,238.0 168.4,239.8 165.0,241.2 161.5,242.4 157.7,243.3Z" clip-path="url(#c1NTNN)" fill="#bcd8ae" fill-opacity="0.8"/><path d="M157.7,228.5 161.5,227.6 165.0,226.4 168.4,225.0 171.8,223.2 175.5,220.9 179.6,218.3 184.0,215.3 188.7,211.9 193.5,208.4 198.3,205.0 203.0,201.6 207.4,198.6 211.5,196.0 215.2,193.8 218.6,191.9 222.0,190.5 225.5,189.3 229.3,188.4 229.3,203.2 225.5,204.1 222.0,205.3 218.6,206.7 215.2,208.6 211.5,210.8 207.4,213.4 203.0,216.4 198.3,219.8 193.5,223.3 188.7,226.7 184.0,230.1 179.6,233.1 175.5,235.7 171.8,238.0 168.4,239.8 165.0,241.2 161.5,242.4 157.7,243.3Z" clip-path="url(#c1TNNN)" fill="#bcd8ae" fill-opacity="0.8"/><path d="M157.7,228.5 161.5,227.6 165.0,226.4 168.4,225.0 171.8,223.2 175.5,220.9 179.6,218.3 184.0,215.3 188.7,211.9 193.5,208.4 198.3,205.0 203.0,201.6 207.4,198.6 211.5,196.0 215.2,193.8 218.6,191.9 222.0,190.5 225.5,189.3 229.3,188.4 229.3,203.2 225.5,204.1 222.0,205.3 218.6,206.7 215.2,208.6 211.5,210.8 207.4,213.4 203.0,216.4 198.3,219.8 193.5,223.3 188.7,226.7 184.0,230.1 179.6,233.1 175.5,235.7 171.8,238.0 168.4,239.8 165.0,241.2 161.5,242.4 157.7,243.3Z" clip-path="url(#c1NNTT)" fill="#17b293" fill-opacity="0.8"/><path d="M157.7,228.5 161.5,227.6 165.0,226.4 168.4,225.0 171.8,223.2 175.5,220.9 179.6,218.3 184.0,215.3 188.7,211.9 193.5,208.4 198.3,205.0 203.0,201.6 207.4,198.6 211.5,196.0 215.2,193.8 218.6,191.9 222.0,190.5 225.5,189.3 229.3,188.4 229.3,203.2 225.5,204.1 222.0,205.3 218.6,206.7 215.2,208.6 211.5,210.8 207.4,213.4 203.0,216.4 198.3,219.8 193.5,223.3 188.7,226.7 184.0,230.1 179.6,233.1 175.5,235.7 171.8,238.0 168.4,239.8 165.0,241.2 161.5,242.4 157.7,243.3Z" clip-path="url(#c1NTNT)" fill="#17b293" fill-opacity="0.8"/><path d="M157.7,228.5 161.5,227.6 165.0,226.4 168.4,225.0 171.8,223.2 175.5,220.9 179.6,218.3 184.0,215.3 188.7,211.9 193.5,208.4 198.3,205.0 203.0,201.6 207.4,198.6 211.5,196.0 215.2,193.8 218.6,191.9 222.0,190.5 225.5,189.3 229.3,188.4 229.3,203.2 225.5,204.1 222.0,205.3 218.6,206.7 215.2,208.6 211.5,210.8 207.4,213.4 203.0,216.4 198.3,219.8 193.5,223.3 188.7,226.7 184.0,230.1 179.6,233.1 175.5,235.7 171.8,238.0 168.4,239.8 165.0,241.2 161.5,242.4 157.7,243.3Z" clip-path="url(#c1NTTN)" fill="#17b293" fill-opacity="0.8"/><path d="M157.7,228.5 161.5,227.6 165.0,226.4 168.4,225.0 171.8,223.2 175.5,220.9 179.6,218.3 184.0,215.3 188.7,211.9 193.5,208.4 198.3,205.0 203.0,201.6 207.4,198.6 211.5,196.0 215.2,193.8 218.6,191.9 222.0,190.5 225.5,189.3 229.3,188.4 229.3,203.2 225.5,204.1 222.0,205.3 218.6,206.7 215.2,208.6 211.5,210.8 207.4,213.4 203.0,216.4 198.3,219.8 193.5,223.3 188.7,226.7 184.0,230.1 179.6,233.1 175.5,235.7 171.8,238.0 168.4,239.8 165.0,241.2 161.5,242.4 157.7,243.3Z" clip-path="url(#c1TNNT)" fill="#17b293" fill-opacity="0.8"/><path d="M157.7,228.5 161.5,227.6 165.0,226.4 168.4,225.0 171.8,223.2 175.5,220.9 179.6,218.3 184.0,215.3 188.7,211.9 193.5,208.4 198.3,205.0 203.0,201.6 207.4,198.6 211.5,196.0 215.2,193.8 218.6,191.9 222.0,190.5 225.5,189.3 229.3,188.4 229.3,203.2 225.5,204.1 222.0,205.3 218.6,206.7 215.2,208.6 211.5,210.8 207.4,213.4 203.0,216.4 198.3,219.8 193.5,223.3 188.7,226.7 184.0,230.1 179.6,233.1 175.5,235.7 171.8,238.0 168.4,239.8 165.0,241.2 161.5,242.4 157.7,243.3Z" clip-path="url(#c1TNTN)" fill="#17b293" fill-opacity="0.8"/><path d="M157.7,228.5 161.5,227.6 165.0,226.4 168.4,225.0 171.8,223.2 175.5,220.9 179.6,218.3 184.0,215.3 188.7,211.9 193.5,208.4 198.3,205.0 203.0,201.6 207.4,198.6 211.5,196.0 215.2,193.8 218.6,191.9 222.0,190.5 225.5,189.3 229.3,188.4 229.3,203.2 225.5,204.1 222.0,205.3 218.6,206.7 215.2,208.6 211.5,210.8 207.4,213.4 203.0,216.4 198.3,219.8 193.5,223.3 188.7,226.7 184.0,230.1 179.6,233.1 175.5,235.7 171.8,238.0 168.4,239.8 165.0,241.2 161.5,242.4 157.7,243.3Z" clip-path="url(#c1TTNN)" fill="#17b293" fill-opacity="0.8"/><path d="M262.5,225.90H333.5V245.30H262.5Z" clip-path="url(#c2NNNT)" fill="#bcd8ae" fill-opacity="0.8"/><path d="M262.5,225.90H333.5V245.30H262.5Z" clip-path="url(#c2NNTN)" fill="#bcd8ae" fill-opacity="0.8"/><path d="M262.5,225.90H333.5V245.30H262.5Z" clip-path="url(#c2NTNN)" fill="#bcd8ae" fill-opacity="0.8"/><path d="M262.5,225.90H333.5V245.30H262.5Z" clip-path="url(#c2TNNN)" fill="#bcd8ae" fill-opacity="0.8"/><path d="M262.5,225.90H333.5V245.30H262.5Z" clip-path="url(#c2NNTT)" fill="#17b293" fill-opacity="0.8"/><path d="M262.5,225.90H333.5V245.30H262.5Z" clip-path="url(#c2NTNT)" fill="#17b293" fill-opacity="0.8"/><path d="M262.5,225.90H333.5V245.30H262.5Z" clip-path="url(#c2NTTN)" fill="#17b293" fill-opacity="0.8"/><path d="M262.5,225.90H333.5V245.30H262.5Z" clip-path="url(#c2TNNT)" fill="#17b293" fill-opacity="0.8"/><path d="M262.5,225.90H333.5V245.30H262.5Z" clip-path="url(#c2TNTN)" fill="#17b293" fill-opacity="0.8"/><path d="M262.5,225.90H333.5V245.30H262.5Z" clip-path="url(#c2TTNN)" fill="#17b293" fill-opacity="0.8"/><path d="M262.5,211.00H333.5V225.90H262.5Z" clip-path="url(#c2NNNT)" fill="#bcd8ae" fill-opacity="0.8"/><path d="M262.5,211.00H333.5V225.90H262.5Z" clip-path="url(#c2NNTN)" fill="#bcd8ae" fill-opacity="0.8"/><path d="M262.5,211.00H333.5V225.90H262.5Z" clip-path="url(#c2NTNN)" fill="#bcd8ae" fill-opacity="0.8"/><path d="M262.5,211.00H333.5V225.90H262.5Z" clip-path="url(#c2TNNN)" fill="#bcd8ae" fill-opacity="0.8"/><path d="M262.5,211.00H333.5V225.90H262.5Z" clip-path="url(#c2NNTT)" fill="#17b293" fill-opacity="0.8"/><path d="M262.5,211.00H333.5V225.90H262.5Z" clip-path="url(#c2NTNT)" fill="#17b293" fill-opacity="0.8"/><path d="M262.5,211.00H333.5V225.90H262.5Z" clip-path="url(#c2NTTN)" fill="#17b293" fill-opacity="0.8"/><path d="M262.5,211.00H333.5V225.90H262.5Z" clip-path="url(#c2TNNT)" fill="#17b293" fill-opacity="0.8"/><path d="M262.5,211.00H333.5V225.90H262.5Z" clip-path="url(#c2TNTN)" fill="#17b293" fill-opacity="0.8"/><path d="M262.5,211.00H333.5V225.90H262.5Z" clip-path="url(#c2TTNN)" fill="#17b293" fill-opacity="0.8"/><path d="M262.5,143.1 266.3,144.0 269.7,145.2 273.1,146.6 276.5,148.4 280.2,150.6 284.2,153.3 288.6,156.3 293.2,159.6 298.0,163.1 302.8,166.5 307.4,169.8 311.8,172.8 315.8,175.5 319.5,177.7 322.9,179.5 326.3,180.9 329.7,182.1 333.5,183.0 333.5,199.2 329.7,198.3 326.3,197.1 322.9,195.7 319.5,193.9 315.8,191.7 311.8,189.0 307.4,186.0 302.8,182.7 298.0,179.2 293.2,175.8 288.6,172.5 284.2,169.5 280.2,166.8 276.5,164.6 273.1,162.8 269.7,161.4 266.3,160.2 262.5,159.3Z" clip-path="url(#c2NNNT)" fill="#bcd8ae" fill-opacity="0.8"/><path d="M262.5,143.1 266.3,144.0 269.7,145.2 273.1,146.6 276.5,148.4 280.2,150.6 284.2,153.3 288.6,156.3 293.2,159.6 298.0,163.1 302.8,166.5 307.4,169.8 311.8,172.8 315.8,175.5 319.5,177.7 322.9,179.5 326.3,180.9 329.7,182.1 333.5,183.0 333.5,199.2 329.7,198.3 326.3,197.1 322.9,195.7 319.5,193.9 315.8,191.7 311.8,189.0 307.4,186.0 302.8,182.7 298.0,179.2 293.2,175.8 288.6,172.5 284.2,169.5 280.2,166.8 276.5,164.6 273.1,162.8 269.7,161.4 266.3,160.2 262.5,159.3Z" clip-path="url(#c2NNTN)" fill="#bcd8ae" fill-opacity="0.8"/><path d="M262.5,143.1 266.3,144.0 269.7,145.2 273.1,146.6 276.5,148.4 280.2,150.6 284.2,153.3 288.6,156.3 293.2,159.6 298.0,163.1 302.8,166.5 307.4,169.8 311.8,172.8 315.8,175.5 319.5,177.7 322.9,179.5 326.3,180.9 329.7,182.1 333.5,183.0 333.5,199.2 329.7,198.3 326.3,197.1 322.9,195.7 319.5,193.9 315.8,191.7 311.8,189.0 307.4,186.0 302.8,182.7 298.0,179.2 293.2,175.8 288.6,172.5 284.2,169.5 280.2,166.8 276.5,164.6 273.1,162.8 269.7,161.4 266.3,160.2 262.5,159.3Z" clip-path="url(#c2NTNN)" fill="#bcd8ae" fill-opacity="0.8"/><path d="M262.5,143.1 266.3,144.0 269.7,145.2 273.1,146.6 276.5,148.4 280.2,150.6 284.2,153.3 288.6,156.3 293.2,159.6 298.0,163.1 302.8,166.5 307.4,169.8 311.8,172.8 315.8,175.5 319.5,177.7 322.9,179.5 326.3,180.9 329.7,182.1 333.5,183.0 333.5,199.2 329.7,198.3 326.3,197.1 322.9,195.7 319.5,193.9 315.8,191.7 311.8,189.0 307.4,186.0 302.8,182.7 298.0,179.2 293.2,175.8 288.6,172.5 284.2,169.5 280.2,166.8 276.5,164.6 273.1,162.8 269.7,161.4 266.3,160.2 262.5,159.3Z" clip-path="url(#c2TNNN)" fill="#bcd8ae" fill-opacity="0.8"/><path d="M262.5,143.1 266.3,144.0 269.7,145.2 273.1,146.6 276.5,148.4 280.2,150.6 284.2,153.3 288.6,156.3 293.2,159.6 298.0,163.1 302.8,166.5 307.4,169.8 311.8,172.8 315.8,175.5 319.5,177.7 322.9,179.5 326.3,180.9 329.7,182.1 333.5,183.0 333.5,199.2 329.7,198.3 326.3,197.1 322.9,195.7 319.5,193.9 315.8,191.7 311.8,189.0 307.4,186.0 302.8,182.7 298.0,179.2 293.2,175.8 288.6,172.5 284.2,169.5 280.2,166.8 276.5,164.6 273.1,162.8 269.7,161.4 266.3,160.2 262.5,159.3Z" clip-path="url(#c2NNTT)" fill="#17b293" fill-opacity="0.8"/><path d="M262.5,143.1 266.3,144.0 269.7,145.2 273.1,146.6 276.5,148.4 280.2,150.6 284.2,153.3 288.6,156.3 293.2,159.6 298.0,163.1 302.8,166.5 307.4,169.8 311.8,172.8 315.8,175.5 319.5,177.7 322.9,179.5 326.3,180.9 329.7,182.1 333.5,183.0 333.5,199.2 329.7,198.3 326.3,197.1 322.9,195.7 319.5,193.9 315.8,191.7 311.8,189.0 307.4,186.0 302.8,182.7 298.0,179.2 293.2,175.8 288.6,172.5 284.2,169.5 280.2,166.8 276.5,164.6 273.1,162.8 269.7,161.4 266.3,160.2 262.5,159.3Z" clip-path="url(#c2NTNT)" fill="#17b293" fill-opacity="0.8"/><path d="M262.5,143.1 266.3,144.0 269.7,145.2 273.1,146.6 276.5,148.4 280.2,150.6 284.2,153.3 288.6,156.3 293.2,159.6 298.0,163.1 302.8,166.5 307.4,169.8 311.8,172.8 315.8,175.5 319.5,177.7 322.9,179.5 326.3,180.9 329.7,182.1 333.5,183.0 333.5,199.2 329.7,198.3 326.3,197.1 322.9,195.7 319.5,193.9 315.8,191.7 311.8,189.0 307.4,186.0 302.8,182.7 298.0,179.2 293.2,175.8 288.6,172.5 284.2,169.5 280.2,166.8 276.5,164.6 273.1,162.8 269.7,161.4 266.3,160.2 262.5,159.3Z" clip-path="url(#c2NTTN)" fill="#17b293" fill-opacity="0.8"/><path d="M262.5,143.1 266.3,144.0 269.7,145.2 273.1,146.6 276.5,148.4 280.2,150.6 284.2,153.3 288.6,156.3 293.2,159.6 298.0,163.1 302.8,166.5 307.4,169.8 311.8,172.8 315.8,175.5 319.5,177.7 322.9,179.5 326.3,180.9 329.7,182.1 333.5,183.0 333.5,199.2 329.7,198.3 326.3,197.1 322.9,195.7 319.5,193.9 315.8,191.7 311.8,189.0 307.4,186.0 302.8,182.7 298.0,179.2 293.2,175.8 288.6,172.5 284.2,169.5 280.2,166.8 276.5,164.6 273.1,162.8 269.7,161.4 266.3,160.2 262.5,159.3Z" clip-path="url(#c2TNNT)" fill="#17b293" fill-opacity="0.8"/><path d="M262.5,143.1 266.3,144.0 269.7,145.2 273.1,146.6 276.5,148.4 280.2,150.6 284.2,153.3 288.6,156.3 293.2,159.6 298.0,163.1 302.8,166.5 307.4,169.8 311.8,172.8 315.8,175.5 319.5,177.7 322.9,179.5 326.3,180.9 329.7,182.1 333.5,183.0 333.5,199.2 329.7,198.3 326.3,197.1 322.9,195.7 319.5,193.9 315.8,191.7 311.8,189.0 307.4,186.0 302.8,182.7 298.0,179.2 293.2,175.8 288.6,172.5 284.2,169.5 280.2,166.8 276.5,164.6 273.1,162.8 269.7,161.4 266.3,160.2 262.5,159.3Z" clip-path="url(#c2TNTN)" fill="#17b293" fill-opacity="0.8"/><path d="M262.5,143.1 266.3,144.0 269.7,145.2 273.1,146.6 276.5,148.4 280.2,150.6 284.2,153.3 288.6,156.3 293.2,159.6 298.0,163.1 302.8,166.5 307.4,169.8 311.8,172.8 315.8,175.5 319.5,177.7 322.9,179.5 326.3,180.9 329.7,182.1 333.5,183.0 333.5,199.2 329.7,198.3 326.3,197.1 322.9,195.7 319.5,193.9 315.8,191.7 311.8,189.0 307.4,186.0 302.8,182.7 298.0,179.2 293.2,175.8 288.6,172.5 284.2,169.5 280.2,166.8 276.5,164.6 273.1,162.8 269.7,161.4 266.3,160.2 262.5,159.3Z" clip-path="url(#c2TTNN)" fill="#17b293" fill-opacity="0.8"/><path d="M262.5,184.3 266.3,183.3 269.7,182.1 273.1,180.6 276.5,178.7 280.2,176.4 284.2,173.6 288.6,170.4 293.2,167.0 298.0,163.3 302.8,159.6 307.4,156.2 311.8,153.0 315.8,150.2 319.5,147.9 322.9,146.0 326.3,144.5 329.7,143.3 333.5,142.3 333.5,157.1 329.7,158.1 326.3,159.3 322.9,160.8 319.5,162.7 315.8,165.0 311.8,167.8 307.4,171.0 302.8,174.4 298.0,178.1 293.2,181.8 288.6,185.2 284.2,188.4 280.2,191.2 276.5,193.5 273.1,195.4 269.7,196.9 266.3,198.1 262.5,199.1Z" clip-path="url(#c2NNNT)" fill="#bcd8ae" fill-opacity="0.8"/><path d="M262.5,184.3 266.3,183.3 269.7,182.1 273.1,180.6 276.5,178.7 280.2,176.4 284.2,173.6 288.6,170.4 293.2,167.0 298.0,163.3 302.8,159.6 307.4,156.2 311.8,153.0 315.8,150.2 319.5,147.9 322.9,146.0 326.3,144.5 329.7,143.3 333.5,142.3 333.5,157.1 329.7,158.1 326.3,159.3 322.9,160.8 319.5,162.7 315.8,165.0 311.8,167.8 307.4,171.0 302.8,174.4 298.0,178.1 293.2,181.8 288.6,185.2 284.2,188.4 280.2,191.2 276.5,193.5 273.1,195.4 269.7,196.9 266.3,198.1 262.5,199.1Z" clip-path="url(#c2NNTN)" fill="#bcd8ae" fill-opacity="0.8"/><path d="M262.5,184.3 266.3,183.3 269.7,182.1 273.1,180.6 276.5,178.7 280.2,176.4 284.2,173.6 288.6,170.4 293.2,167.0 298.0,163.3 302.8,159.6 307.4,156.2 311.8,153.0 315.8,150.2 319.5,147.9 322.9,146.0 326.3,144.5 329.7,143.3 333.5,142.3 333.5,157.1 329.7,158.1 326.3,159.3 322.9,160.8 319.5,162.7 315.8,165.0 311.8,167.8 307.4,171.0 302.8,174.4 298.0,178.1 293.2,181.8 288.6,185.2 284.2,188.4 280.2,191.2 276.5,193.5 273.1,195.4 269.7,196.9 266.3,198.1 262.5,199.1Z" clip-path="url(#c2NTNN)" fill="#bcd8ae" fill-opacity="0.8"/><path d="M262.5,184.3 266.3,183.3 269.7,182.1 273.1,180.6 276.5,178.7 280.2,176.4 284.2,173.6 288.6,170.4 293.2,167.0 298.0,163.3 302.8,159.6 307.4,156.2 311.8,153.0 315.8,150.2 319.5,147.9 322.9,146.0 326.3,144.5 329.7,143.3 333.5,142.3 333.5,157.1 329.7,158.1 326.3,159.3 322.9,160.8 319.5,162.7 315.8,165.0 311.8,167.8 307.4,171.0 302.8,174.4 298.0,178.1 293.2,181.8 288.6,185.2 284.2,188.4 280.2,191.2 276.5,193.5 273.1,195.4 269.7,196.9 266.3,198.1 262.5,199.1Z" clip-path="url(#c2TNNN)" fill="#bcd8ae" fill-opacity="0.8"/><path d="M262.5,184.3 266.3,183.3 269.7,182.1 273.1,180.6 276.5,178.7 280.2,176.4 284.2,173.6 288.6,170.4 293.2,167.0 298.0,163.3 302.8,159.6 307.4,156.2 311.8,153.0 315.8,150.2 319.5,147.9 322.9,146.0 326.3,144.5 329.7,143.3 333.5,142.3 333.5,157.1 329.7,158.1 326.3,159.3 322.9,160.8 319.5,162.7 315.8,165.0 311.8,167.8 307.4,171.0 302.8,174.4 298.0,178.1 293.2,181.8 288.6,185.2 284.2,188.4 280.2,191.2 276.5,193.5 273.1,195.4 269.7,196.9 266.3,198.1 262.5,199.1Z" clip-path="url(#c2NNTT)" fill="#17b293" fill-opacity="0.8"/><path d="M262.5,184.3 266.3,183.3 269.7,182.1 273.1,180.6 276.5,178.7 280.2,176.4 284.2,173.6 288.6,170.4 293.2,167.0 298.0,163.3 302.8,159.6 307.4,156.2 311.8,153.0 315.8,150.2 319.5,147.9 322.9,146.0 326.3,144.5 329.7,143.3 333.5,142.3 333.5,157.1 329.7,158.1 326.3,159.3 322.9,160.8 319.5,162.7 315.8,165.0 311.8,167.8 307.4,171.0 302.8,174.4 298.0,178.1 293.2,181.8 288.6,185.2 284.2,188.4 280.2,191.2 276.5,193.5 273.1,195.4 269.7,196.9 266.3,198.1 262.5,199.1Z" clip-path="url(#c2NTNT)" fill="#17b293" fill-opacity="0.8"/><path d="M262.5,184.3 266.3,183.3 269.7,182.1 273.1,180.6 276.5,178.7 280.2,176.4 284.2,173.6 288.6,170.4 293.2,167.0 298.0,163.3 302.8,159.6 307.4,156.2 311.8,153.0 315.8,150.2 319.5,147.9 322.9,146.0 326.3,144.5 329.7,143.3 333.5,142.3 333.5,157.1 329.7,158.1 326.3,159.3 322.9,160.8 319.5,162.7 315.8,165.0 311.8,167.8 307.4,171.0 302.8,174.4 298.0,178.1 293.2,181.8 288.6,185.2 284.2,188.4 280.2,191.2 276.5,193.5 273.1,195.4 269.7,196.9 266.3,198.1 262.5,199.1Z" clip-path="url(#c2NTTN)" fill="#17b293" fill-opacity="0.8"/><path d="M262.5,184.3 266.3,183.3 269.7,182.1 273.1,180.6 276.5,178.7 280.2,176.4 284.2,173.6 288.6,170.4 293.2,167.0 298.0,163.3 302.8,159.6 307.4,156.2 311.8,153.0 315.8,150.2 319.5,147.9 322.9,146.0 326.3,144.5 329.7,143.3 333.5,142.3 333.5,157.1 329.7,158.1 326.3,159.3 322.9,160.8 319.5,162.7 315.8,165.0 311.8,167.8 307.4,171.0 302.8,174.4 298.0,178.1 293.2,181.8 288.6,185.2 284.2,188.4 280.2,191.2 276.5,193.5 273.1,195.4 269.7,196.9 266.3,198.1 262.5,199.1Z" clip-path="url(#c2TNNT)" fill="#17b293" fill-opacity="0.8"/><path d="M262.5,184.3 266.3,183.3 269.7,182.1 273.1,180.6 276.5,178.7 280.2,176.4 284.2,173.6 288.6,170.4 293.2,167.0 298.0,163.3 302.8,159.6 307.4,156.2 311.8,153.0 315.8,150.2 319.5,147.9 322.9,146.0 326.3,144.5 329.7,143.3 333.5,142.3 333.5,157.1 329.7,158.1 326.3,159.3 322.9,160.8 319.5,162.7 315.8,165.0 311.8,167.8 307.4,171.0 302.8,174.4 298.0,178.1 293.2,181.8 288.6,185.2 284.2,188.4 280.2,191.2 276.5,193.5 273.1,195.4 269.7,196.9 266.3,198.1 262.5,199.1Z" clip-path="url(#c2TNTN)" fill="#17b293" fill-opacity="0.8"/><path d="M262.5,184.3 266.3,183.3 269.7,182.1 273.1,180.6 276.5,178.7 280.2,176.4 284.2,173.6 288.6,170.4 293.2,167.0 298.0,163.3 302.8,159.6 307.4,156.2 311.8,153.0 315.8,150.2 319.5,147.9 322.9,146.0 326.3,144.5 329.7,143.3 333.5,142.3 333.5,157.1 329.7,158.1 326.3,159.3 322.9,160.8 319.5,162.7 315.8,165.0 311.8,167.8 307.4,171.0 302.8,174.4 298.0,178.1 293.2,181.8 288.6,185.2 284.2,188.4 280.2,191.2 276.5,193.5 273.1,195.4 269.7,196.9 266.3,198.1 262.5,199.1Z" clip-path="url(#c2TTNN)" fill="#17b293" fill-opacity="0.8"/></g>
<g class="f"><path d="M53.5,36.50H124.5V86.60H53.5Z"/><path d="M53.5,86.60H124.5V96.50H53.5Z"/><path d="M53.5,96.50H124.5V106.00H53.5Z"/><path d="M53.5,117.6 57.3,118.5 60.7,119.5 64.1,120.9 67.5,122.5 71.2,124.6 75.2,127.0 79.6,129.8 84.2,132.8 89.0,136.0 93.8,139.3 98.4,142.3 102.8,145.1 106.8,147.5 110.5,149.5 113.9,151.2 117.3,152.6 120.7,153.6 124.5,154.5 124.5,162.4 120.7,161.5 117.3,160.5 113.9,159.1 110.5,157.5 106.8,155.4 102.8,153.0 98.4,150.2 93.8,147.2 89.0,143.9 84.2,140.7 79.6,137.7 75.2,134.9 71.2,132.5 67.5,130.5 64.1,128.8 60.7,127.4 57.3,126.4 53.5,125.5Z"/><path d="M53.5,164.6 57.3,163.5 60.7,162.2 64.1,160.5 67.5,158.4 71.2,155.8 75.2,152.8 79.6,149.3 84.2,145.4 89.0,141.3 93.8,137.3 98.4,133.4 102.8,129.9 106.8,126.9 110.5,124.3 113.9,122.2 117.3,120.5 120.7,119.2 124.5,118.1 124.5,127.8 120.7,128.9 117.3,130.2 113.9,131.9 110.5,134.0 106.8,136.6 102.8,139.6 98.4,143.1 93.8,147.0 89.0,151.0 84.2,155.1 79.6,159.0 75.2,162.5 71.2,165.5 67.5,168.1 64.1,170.2 60.7,171.9 57.3,173.2 53.5,174.3Z"/><path d="M53.5,106.00H124.5V115.80H53.5Z"/><path d="M53.5,125.5 57.3,126.4 60.7,127.4 64.1,128.8 67.5,130.5 71.2,132.5 75.2,134.9 79.6,137.7 84.2,140.7 89.0,143.9 93.8,147.2 98.4,150.2 102.8,153.0 106.8,155.4 110.5,157.5 113.9,159.1 117.3,160.5 120.7,161.5 124.5,162.4 124.5,174.8 120.7,173.9 117.3,172.9 113.9,171.5 110.5,169.8 106.8,167.8 102.8,165.4 98.4,162.6 93.8,159.6 89.0,156.3 84.2,153.1 79.6,150.1 75.2,147.3 71.2,144.9 67.5,142.8 64.1,141.2 60.7,139.8 57.3,138.8 53.5,137.9Z"/><path d="M53.5,137.9 57.3,138.8 60.7,139.8 64.1,141.2 67.5,142.8 71.2,144.9 75.2,147.3 79.6,150.1 84.2,153.1 89.0,156.3 93.8,159.6 98.4,162.6 102.8,165.4 106.8,167.8 110.5,169.8 113.9,171.5 117.3,172.9 120.7,173.9 124.5,174.8 124.5,186.2 120.7,185.3 117.3,184.3 113.9,182.9 110.5,181.2 106.8,179.2 102.8,176.8 98.4,174.0 93.8,171.0 89.0,167.8 84.2,164.5 79.6,161.5 75.2,158.7 71.2,156.3 67.5,154.2 64.1,152.6 60.7,151.2 57.3,150.2 53.5,149.3Z"/><path d="M53.5,174.3 57.3,173.2 60.7,171.9 64.1,170.2 67.5,168.1 71.2,165.5 75.2,162.5 79.6,159.0 84.2,155.1 89.0,151.0 93.8,147.0 98.4,143.1 102.8,139.6 106.8,136.6 110.5,134.0 113.9,131.9 117.3,130.2 120.7,128.9 124.5,127.8 124.5,135.5 120.7,136.6 117.3,137.9 113.9,139.6 110.5,141.7 106.8,144.3 102.8,147.3 98.4,150.8 93.8,154.7 89.0,158.7 84.2,162.8 79.6,166.7 75.2,170.2 71.2,173.2 67.5,175.8 64.1,177.9 60.7,179.6 57.3,180.9 53.5,182.0Z"/><path d="M53.5,182.0 57.3,180.9 60.7,179.6 64.1,177.9 67.5,175.8 71.2,173.2 75.2,170.2 79.6,166.7 84.2,162.8 89.0,158.7 93.8,154.7 98.4,150.8 102.8,147.3 106.8,144.3 110.5,141.7 113.9,139.6 117.3,137.9 120.7,136.6 124.5,135.5 124.5,143.7 120.7,144.8 117.3,146.1 113.9,147.8 110.5,149.9 106.8,152.5 102.8,155.5 98.4,159.0 93.8,162.9 89.0,166.9 84.2,171.0 79.6,174.9 75.2,178.4 71.2,181.4 67.5,184.0 64.1,186.1 60.7,187.8 57.3,189.1 53.5,190.2Z"/><path d="M53.5,207.40H124.5V214.30H53.5Z"/><path d="M53.5,149.3 57.3,150.2 60.7,151.2 64.1,152.6 67.5,154.2 71.2,156.3 75.2,158.7 79.6,161.5 84.2,164.5 89.0,167.8 93.8,171.0 98.4,174.0 102.8,176.8 106.8,179.2 110.5,181.2 113.9,182.9 117.3,184.3 120.7,185.3 124.5,186.2 124.5,205.6 120.7,204.7 117.3,203.7 113.9,202.3 110.5,200.7 106.8,198.6 102.8,196.2 98.4,193.4 93.8,190.4 89.0,187.2 84.2,183.9 79.6,180.9 75.2,178.1 71.2,175.7 67.5,173.7 64.1,172.0 60.7,170.6 57.3,169.6 53.5,168.7Z"/><path d="M53.5,190.2 57.3,189.1 60.7,187.8 64.1,186.1 67.5,184.0 71.2,181.4 75.2,178.4 79.6,174.9 84.2,171.0 89.0,166.9 93.8,162.9 98.4,159.0 102.8,155.5 106.8,152.5 110.5,149.9 113.9,147.8 117.3,146.1 120.7,144.8 124.5,143.7 124.5,158.6 120.7,159.7 117.3,161.0 113.9,162.7 110.5,164.8 106.8,167.4 102.8,170.4 98.4,173.9 93.8,177.8 89.0,181.8 84.2,185.9 79.6,189.8 75.2,193.3 71.2,196.3 67.5,198.9 64.1,201.0 60.7,202.7 57.3,204.0 53.5,205.1Z"/><path d="M53.5,214.30H124.5V230.50H53.5Z"/><path d="M53.5,230.50H124.5V245.30H53.5Z"/><path d="M53.5,245.30H124.5V298.50H53.5Z"/><path d="M157.5,36.50H229.5V86.60H157.5Z"/><path d="M157.7,87.7 161.5,88.2 165.0,88.9 168.4,89.7 171.8,90.7 175.5,91.9 179.6,93.4 184.0,95.1 188.7,96.9 193.5,98.9 198.3,100.8 203.0,102.6 207.4,104.3 211.5,105.8 215.2,107.0 218.6,108.0 222.0,108.8 225.5,109.5 229.3,110.0 229.3,119.9 225.5,119.4 222.0,118.7 218.6,117.9 215.2,116.9 211.5,115.7 207.4,114.2 203.0,112.5 198.3,110.7 193.5,108.8 188.7,106.8 184.0,105.0 179.6,103.3 175.5,101.8 171.8,100.6 168.4,99.6 165.0,98.8 161.5,98.1 157.7,97.6Z"/><path d="M157.7,99.3 161.5,100.5 165.0,102.1 168.4,104.1 171.8,106.6 175.5,109.7 179.6,113.3 184.0,117.5 188.7,122.1 193.5,126.9 198.3,131.7 203.0,136.3 207.4,140.5 211.5,144.1 215.2,147.2 218.6,149.7 222.0,151.7 225.5,153.3 229.3,154.5 229.3,164.0 225.5,162.8 222.0,161.2 218.6,159.2 215.2,156.7 211.5,153.6 207.4,150.0 203.0,145.8 198.3,141.2 193.5,136.4 188.7,131.6 184.0,127.0 179.6,122.8 175.5,119.2 171.8,116.1 168.4,113.6 165.0,111.6 161.5,110.0 157.7,108.8Z"/><path d="M157.7,153.6 161.5,152.3 165.0,150.8 168.4,148.8 171.8,146.3 175.5,143.3 179.6,139.7 184.0,135.6 188.7,131.1 193.5,126.3 198.3,121.5 203.0,117.0 207.4,112.9 211.5,109.3 215.2,106.3 218.6,103.8 222.0,101.8 225.5,100.3 229.3,99.0 229.3,106.9 225.5,108.2 222.0,109.7 218.6,111.7 215.2,114.2 211.5,117.2 207.4,120.8 203.0,124.9 198.3,129.4 193.5,134.2 188.7,139.0 184.0,143.5 179.6,147.6 175.5,151.2 171.8,154.2 168.4,156.7 165.0,158.7 161.5,160.2 157.7,161.5Z"/><path d="M157.7,114.5 161.5,113.9 165.0,113.1 168.4,112.1 171.8,110.9 175.5,109.5 179.6,107.7 184.0,105.7 188.7,103.5 193.5,101.2 198.3,98.9 203.0,96.7 207.4,94.7 211.5,92.9 215.2,91.5 218.6,90.3 222.0,89.3 225.5,88.5 229.3,87.9 229.3,97.6 225.5,98.2 222.0,99.0 218.6,100.0 215.2,101.2 211.5,102.6 207.4,104.4 203.0,106.4 198.3,108.6 193.5,110.9 188.7,113.2 184.0,115.4 179.6,117.4 175.5,119.2 171.8,120.6 168.4,121.8 165.0,122.8 161.5,123.6 157.7,124.2Z"/><path d="M157.7,110.3 161.5,112.3 165.0,114.8 168.4,117.9 171.8,121.9 175.5,126.7 179.6,132.4 184.0,138.9 188.7,146.1 193.5,153.6 198.3,161.1 203.0,168.3 207.4,174.8 211.5,180.5 215.2,185.3 218.6,189.3 222.0,192.4 225.5,194.9 229.3,196.9 229.3,206.7 225.5,204.7 222.0,202.2 218.6,199.1 215.2,195.1 211.5,190.3 207.4,184.6 203.0,178.1 198.3,170.9 193.5,163.4 188.7,155.9 184.0,148.7 179.6,142.2 175.5,136.5 171.8,131.7 168.4,127.7 165.0,124.6 161.5,122.1 157.7,120.1Z"/><path d="M157.7,162.6 161.5,161.8 165.0,160.9 168.4,159.8 171.8,158.3 175.5,156.5 179.6,154.4 184.0,151.9 188.7,149.3 193.5,146.4 198.3,143.6 203.0,141.0 207.4,138.5 211.5,136.4 215.2,134.6 218.6,133.1 222.0,132.0 225.5,131.1 229.3,130.3 229.3,142.7 225.5,143.5 222.0,144.4 218.6,145.5 215.2,147.0 211.5,148.8 207.4,150.9 203.0,153.4 198.3,156.0 193.5,158.8 188.7,161.7 184.0,164.3 179.6,166.8 175.5,168.9 171.8,170.7 168.4,172.2 165.0,173.3 161.5,174.2 157.7,175.0Z"/><path d="M157.7,176.5 161.5,176.5 165.0,176.5 168.4,176.4 171.8,176.3 175.5,176.3 179.6,176.2 184.0,176.0 188.7,175.9 193.5,175.8 198.3,175.7 203.0,175.6 207.4,175.4 211.5,175.3 215.2,175.3 218.6,175.2 222.0,175.1 225.5,175.1 229.3,175.1 229.3,186.5 225.5,186.5 222.0,186.5 218.6,186.6 215.2,186.7 211.5,186.7 207.4,186.8 203.0,187.0 198.3,187.1 193.5,187.2 188.7,187.3 184.0,187.4 179.6,187.6 175.5,187.7 171.8,187.7 168.4,187.8 165.0,187.9 161.5,187.9 157.7,187.9Z"/><path d="M157.7,125.3 161.5,125.2 165.0,125.1 168.4,124.9 171.8,124.8 175.5,124.5 179.6,124.3 184.0,123.9 188.7,123.6 193.5,123.2 198.3,122.9 203.0,122.6 207.4,122.2 211.5,122.0 215.2,121.8 218.6,121.6 222.0,121.4 225.5,121.3 229.3,121.2 229.3,128.9 225.5,129.0 222.0,129.1 218.6,129.3 215.2,129.5 211.5,129.7 207.4,129.9 203.0,130.3 198.3,130.6 193.5,130.9 188.7,131.3 184.0,131.6 179.6,132.0 175.5,132.2 171.8,132.5 168.4,132.6 165.0,132.8 161.5,132.9 157.7,133.0Z"/><path d="M157.7,134.7 161.5,135.4 165.0,136.3 168.4,137.4 171.8,138.8 175.5,140.5 179.6,142.5 184.0,144.8 188.7,147.3 193.5,150.0 198.3,152.7 203.0,155.2 207.4,157.5 211.5,159.5 215.2,161.2 218.6,162.6 222.0,163.7 225.5,164.6 229.3,165.3 229.3,173.5 225.5,172.8 222.0,171.9 218.6,170.8 215.2,169.4 211.5,167.7 207.4,165.7 203.0,163.4 198.3,160.9 193.5,158.2 188.7,155.5 184.0,153.0 179.6,150.7 175.5,148.7 171.8,147.0 168.4,145.6 165.0,144.5 161.5,143.6 157.7,142.9Z"/><path d="M157.7,202.7 161.5,200.6 165.0,197.9 168.4,194.5 171.8,190.2 175.5,185.0 179.6,178.8 184.0,171.8 188.7,164.0 193.5,155.8 198.3,147.6 203.0,139.8 207.4,132.8 211.5,126.6 215.2,121.4 218.6,117.1 222.0,113.7 225.5,111.0 229.3,108.9 229.3,115.8 225.5,117.9 222.0,120.6 218.6,124.0 215.2,128.3 211.5,133.5 207.4,139.7 203.0,146.7 198.3,154.5 193.5,162.7 188.7,170.9 184.0,178.7 179.6,185.7 175.5,191.9 171.8,197.1 168.4,201.4 165.0,204.8 161.5,207.5 157.7,209.6Z"/><path d="M157.7,189.7 161.5,190.5 165.0,191.5 168.4,192.8 171.8,194.3 175.5,196.2 179.6,198.5 184.0,201.1 188.7,203.9 193.5,207.0 198.3,210.0 203.0,212.8 207.4,215.4 211.5,217.7 215.2,219.6 218.6,221.1 222.0,222.4 225.5,223.4 229.3,224.2 229.3,243.6 225.5,242.8 222.0,241.8 218.6,240.5 215.2,239.0 211.5,237.1 207.4,234.8 203.0,232.2 198.3,229.4 193.5,226.4 188.7,223.3 184.0,220.5 179.6,217.9 175.5,215.6 171.8,213.7 168.4,212.2 165.0,210.9 161.5,209.9 157.7,209.1Z"/><path d="M157.7,144.6 161.5,146.0 165.0,147.8 168.4,150.1 171.8,153.0 175.5,156.5 179.6,160.7 184.0,165.4 188.7,170.7 193.5,176.2 198.3,181.7 203.0,187.0 207.4,191.7 211.5,195.9 215.2,199.4 218.6,202.3 222.0,204.6 225.5,206.4 229.3,207.8 229.3,222.7 225.5,221.3 222.0,219.5 218.6,217.2 215.2,214.3 211.5,210.8 207.4,206.6 203.0,201.9 198.3,196.6 193.5,191.1 188.7,185.6 184.0,180.3 179.6,175.6 175.5,171.4 171.8,167.9 168.4,165.0 165.0,162.7 161.5,160.9 157.7,159.5Z"/><path d="M157.7,211.0 161.5,209.4 165.0,207.5 168.4,205.1 171.8,202.1 175.5,198.4 179.6,194.0 184.0,189.0 188.7,183.5 193.5,177.7 198.3,171.9 203.0,166.4 207.4,161.4 211.5,157.0 215.2,153.3 218.6,150.3 222.0,147.9 225.5,146.0 229.3,144.4 229.3,160.6 225.5,162.2 222.0,164.1 218.6,166.5 215.2,169.5 211.5,173.2 207.4,177.6 203.0,182.6 198.3,188.1 193.5,193.9 188.7,199.7 184.0,205.2 179.6,210.2 175.5,214.6 171.8,218.3 168.4,221.3 165.0,223.7 161.5,225.6 157.7,227.2Z"/><path d="M157.7,228.5 161.5,227.6 165.0,226.4 168.4,225.0 171.8,223.2 175.5,220.9 179.6,218.3 184.0,215.3 188.7,211.9 193.5,208.4 198.3,205.0 203.0,201.6 207.4,198.6 211.5,196.0 215.2,193.8 218.6,191.9 222.0,190.5 225.5,189.3 229.3,188.4 229.3,203.2 225.5,204.1 222.0,205.3 218.6,206.7 215.2,208.6 211.5,210.8 207.4,213.4 203.0,216.4 198.3,219.8 193.5,223.3 188.7,226.7 184.0,230.1 179.6,233.1 175.5,235.7 171.8,238.0 168.4,239.8 165.0,241.2 161.5,242.4 157.7,243.3Z"/><path d="M157.5,245.30H229.5V298.50H157.5Z"/><path d="M262.5,36.50H333.5V86.60H262.5Z"/><path d="M262.5,113.1 266.3,114.0 269.7,115.2 273.1,116.6 276.5,118.4 280.2,120.6 284.2,123.3 288.6,126.3 293.2,129.6 298.0,133.1 302.8,136.5 307.4,139.8 311.8,142.8 315.8,145.5 319.5,147.7 322.9,149.5 326.3,150.9 329.7,152.1 333.5,153.0 333.5,162.9 329.7,162.0 326.3,160.8 322.9,159.4 319.5,157.6 315.8,155.4 311.8,152.7 307.4,149.7 302.8,146.4 298.0,143.0 293.2,139.5 288.6,136.2 284.2,133.2 280.2,130.5 276.5,128.3 273.1,126.5 269.7,125.1 266.3,123.9 262.5,123.0Z"/><path d="M262.5,155.2 266.3,154.2 269.7,153.0 273.1,151.5 276.5,149.6 280.2,147.3 284.2,144.5 288.6,141.3 293.2,137.9 298.0,134.2 302.8,130.5 307.4,127.1 311.8,123.9 315.8,121.1 319.5,118.8 322.9,116.9 326.3,115.4 329.7,114.2 333.5,113.2 333.5,122.7 329.7,123.7 326.3,124.9 322.9,126.4 319.5,128.3 315.8,130.6 311.8,133.4 307.4,136.6 302.8,140.0 298.0,143.7 293.2,147.4 288.6,150.8 284.2,154.0 280.2,156.8 276.5,159.1 273.1,161.0 269.7,162.5 266.3,163.7 262.5,164.7Z"/><path d="M262.5,96.30H333.5V104.20H262.5Z"/><path d="M262.5,86.60H333.5V96.30H262.5Z"/><path d="M262.5,201.20H333.5V211.00H262.5Z"/><path d="M262.5,130.7 266.3,131.6 269.7,132.8 273.1,134.2 276.5,136.0 280.2,138.2 284.2,140.9 288.6,143.9 293.2,147.2 298.0,150.7 302.8,154.1 307.4,157.4 311.8,160.4 315.8,163.1 319.5,165.3 322.9,167.1 326.3,168.5 329.7,169.7 333.5,170.6 333.5,183.0 329.7,182.1 326.3,180.9 322.9,179.5 319.5,177.7 315.8,175.5 311.8,172.8 307.4,169.8 302.8,166.5 298.0,163.1 293.2,159.6 288.6,156.3 284.2,153.3 280.2,150.6 276.5,148.4 273.1,146.6 269.7,145.2 266.3,144.0 262.5,143.1Z"/><path d="M262.5,172.9 266.3,171.9 269.7,170.7 273.1,169.2 276.5,167.3 280.2,165.0 284.2,162.2 288.6,159.0 293.2,155.6 298.0,151.9 302.8,148.2 307.4,144.8 311.8,141.6 315.8,138.8 319.5,136.5 322.9,134.6 326.3,133.1 329.7,131.9 333.5,130.9 333.5,142.3 329.7,143.3 326.3,144.5 322.9,146.0 319.5,147.9 315.8,150.2 311.8,153.0 307.4,156.2 302.8,159.6 298.0,163.3 293.2,167.0 288.6,170.4 284.2,173.6 280.2,176.4 276.5,178.7 273.1,180.6 269.7,182.1 266.3,183.3 262.5,184.3Z"/><path d="M262.5,123.0 266.3,123.9 269.7,125.1 273.1,126.5 276.5,128.3 280.2,130.5 284.2,133.2 288.6,136.2 293.2,139.5 298.0,143.0 302.8,146.4 307.4,149.7 311.8,152.7 315.8,155.4 319.5,157.6 322.9,159.4 326.3,160.8 329.7,162.0 333.5,162.9 333.5,170.6 329.7,169.7 326.3,168.5 322.9,167.1 319.5,165.3 315.8,163.1 311.8,160.4 307.4,157.4 302.8,154.1 298.0,150.7 293.2,147.2 288.6,143.9 284.2,140.9 280.2,138.2 276.5,136.0 273.1,134.2 269.7,132.8 266.3,131.6 262.5,130.7Z"/><path d="M262.5,164.7 266.3,163.7 269.7,162.5 273.1,161.0 276.5,159.1 280.2,156.8 284.2,154.0 288.6,150.8 293.2,147.4 298.0,143.7 302.8,140.0 307.4,136.6 311.8,133.4 315.8,130.6 319.5,128.3 322.9,126.4 326.3,124.9 329.7,123.7 333.5,122.7 333.5,130.9 329.7,131.9 326.3,133.1 322.9,134.6 319.5,136.5 315.8,138.8 311.8,141.6 307.4,144.8 302.8,148.2 298.0,151.9 293.2,155.6 288.6,159.0 284.2,162.2 280.2,165.0 276.5,167.3 273.1,169.2 269.7,170.7 266.3,171.9 262.5,172.9Z"/><path d="M262.5,104.20H333.5V111.10H262.5Z"/><path d="M262.5,225.90H333.5V245.30H262.5Z"/><path d="M262.5,211.00H333.5V225.90H262.5Z"/><path d="M262.5,143.1 266.3,144.0 269.7,145.2 273.1,146.6 276.5,148.4 280.2,150.6 284.2,153.3 288.6,156.3 293.2,159.6 298.0,163.1 302.8,166.5 307.4,169.8 311.8,172.8 315.8,175.5 319.5,177.7 322.9,179.5 326.3,180.9 329.7,182.1 333.5,183.0 333.5,199.2 329.7,198.3 326.3,197.1 322.9,195.7 319.5,193.9 315.8,191.7 311.8,189.0 307.4,186.0 302.8,182.7 298.0,179.2 293.2,175.8 288.6,172.5 284.2,169.5 280.2,166.8 276.5,164.6 273.1,162.8 269.7,161.4 266.3,160.2 262.5,159.3Z"/><path d="M262.5,184.3 266.3,183.3 269.7,182.1 273.1,180.6 276.5,178.7 280.2,176.4 284.2,173.6 288.6,170.4 293.2,167.0 298.0,163.3 302.8,159.6 307.4,156.2 311.8,153.0 315.8,150.2 319.5,147.9 322.9,146.0 326.3,144.5 329.7,143.3 333.5,142.3 333.5,157.1 329.7,158.1 326.3,159.3 322.9,160.8 319.5,162.7 315.8,165.0 311.8,167.8 307.4,171.0 302.8,174.4 298.0,178.1 293.2,181.8 288.6,185.2 284.2,188.4 280.2,191.2 276.5,193.5 273.1,195.4 269.7,196.9 266.3,198.1 262.5,199.1Z"/><path d="M262.5,245.30H333.5V298.50H262.5Z"/></g>
<rect x="19.50" y="36.50" width="35.00" height="130.40" fill="#fedeb0" stroke="#45402e" stroke-width="1"/><rect x="19.50" y="166.90" width="35.00" height="131.60" fill="#7050a0" stroke="#2a1c42" stroke-width="1"/><rect x="123.50" y="36.50" width="35.00" height="119.80" fill="#fedeb0" stroke="#45402e" stroke-width="1"/><rect x="123.50" y="156.30" width="35.00" height="142.20" fill="#7050a0" stroke="#2a1c42" stroke-width="1"/><rect x="228.50" y="36.50" width="35.00" height="120.80" fill="#fedeb0" stroke="#45402e" stroke-width="1"/><rect x="228.50" y="157.30" width="35.00" height="141.20" fill="#7050a0" stroke="#2a1c42" stroke-width="1"/><rect x="332.50" y="36.50" width="35.00" height="118.50" fill="#fedeb0" stroke="#45402e" stroke-width="1"/><rect x="332.50" y="155.00" width="35.00" height="143.50" fill="#7050a0" stroke="#2a1c42" stroke-width="1"/>
<text transform="translate(37.25,19.00) scale(1,1.06)" class="dk" style="font-size:9.3px" textLength="123.91" lengthAdjust="spacingAndGlyphs">Number of monitored quarters</text><text transform="translate(21.96,100.40) scale(1,1.06)" class="dk" style="font-size:9.5px" textLength="29.85" lengthAdjust="spacingAndGlyphs">No test</text><text transform="translate(22.94,111.40) scale(1,1.06)" class="dk" style="font-size:9.5px" textLength="27.85" lengthAdjust="spacingAndGlyphs">49.8%</text><text transform="translate(126.25,95.30) scale(1,1.06)" class="dk" style="font-size:9.5px" textLength="30.06" lengthAdjust="spacingAndGlyphs">No test</text><text transform="translate(127.95,106.40) scale(1,1.06)" class="dk" style="font-size:9.5px" textLength="27.34" lengthAdjust="spacingAndGlyphs">45.7%</text><text transform="translate(229.65,95.30) scale(1,1.06)" class="dk" style="font-size:9.5px" textLength="29.95" lengthAdjust="spacingAndGlyphs">No test</text><text transform="translate(231.04,106.40) scale(1,1.06)" class="dk" style="font-size:9.5px" textLength="27.55" lengthAdjust="spacingAndGlyphs">46.0%</text><text transform="translate(336.05,92.70) scale(1,1.06)" class="dk" style="font-size:9.5px" textLength="30.06" lengthAdjust="spacingAndGlyphs">No test</text><text transform="translate(337.45,103.80) scale(1,1.06)" class="dk" style="font-size:9.5px" textLength="27.34" lengthAdjust="spacingAndGlyphs">45.1%</text><text transform="translate(23.96,231.10) scale(1,1.06)" class="wt" style="font-size:9.5px" textLength="26.72" lengthAdjust="spacingAndGlyphs">Tested</text><text transform="translate(23.44,242.70) scale(1,1.06)" class="wt" style="font-size:9.5px" textLength="27.55" lengthAdjust="spacingAndGlyphs">50.2%</text><text transform="translate(128.25,225.30) scale(1,1.06)" class="wt" style="font-size:9.5px" textLength="27.54" lengthAdjust="spacingAndGlyphs">Tested</text><text transform="translate(127.64,236.40) scale(1,1.06)" class="wt" style="font-size:9.5px" textLength="28.26" lengthAdjust="spacingAndGlyphs">54.3%</text><text transform="translate(231.46,225.30) scale(1,1.06)" class="wt" style="font-size:9.5px" textLength="26.92" lengthAdjust="spacingAndGlyphs">Tested</text><text transform="translate(231.25,236.40) scale(1,1.06)" class="wt" style="font-size:9.5px" textLength="27.34" lengthAdjust="spacingAndGlyphs">54.0%</text><text transform="translate(336.07,225.30) scale(1,1.06)" class="wt" style="font-size:9.5px" textLength="26.30" lengthAdjust="spacingAndGlyphs">Tested</text><text transform="translate(335.65,236.40) scale(1,1.06)" class="wt" style="font-size:9.5px" textLength="27.34" lengthAdjust="spacingAndGlyphs">54.9%</text><text transform="translate(9.49,310.50) scale(1,1.06)" class="dk" style="font-size:9.5px" textLength="54.00" lengthAdjust="spacingAndGlyphs">Month 02-04</text><text transform="translate(114.24,310.50) scale(1,1.06)" class="dk" style="font-size:9.5px" textLength="54.21" lengthAdjust="spacingAndGlyphs">Month 05-07</text><text transform="translate(219.24,310.50) scale(1,1.06)" class="dk" style="font-size:9.5px" textLength="54.21" lengthAdjust="spacingAndGlyphs">Month 08-10</text><text transform="translate(321.62,310.50) scale(1,1.06)" class="dk" style="font-size:9.5px" textLength="54.53" lengthAdjust="spacingAndGlyphs">Month 11-13</text><text transform="translate(389.50,47.50) scale(1,1.06)" class="dk" style="font-size:9.5px" textLength="106.00" lengthAdjust="spacingAndGlyphs">227 (19.0%) patients had</text><text transform="translate(389.52,59.00) scale(1,1.06)" class="dk" style="font-size:9.5px" textLength="98.16" lengthAdjust="spacingAndGlyphs">no molecular monitoring</text><text transform="translate(389.65,201.60) scale(1,1.06)" class="dk" style="font-size:9.5px" textLength="106.66" lengthAdjust="spacingAndGlyphs">540 (45.3%) patients had</text><text transform="translate(389.65,212.90) scale(1,1.06)" class="dk" style="font-size:9.5px" textLength="120.55" lengthAdjust="spacingAndGlyphs">optimal monitoring (≥3 qPCR</text><text transform="translate(389.90,224.40) scale(1,1.06)" class="dk" style="font-size:9.5px" textLength="63.41" lengthAdjust="spacingAndGlyphs">tests during the</text><text transform="translate(456.65,224.40) scale(1,1.06)" class="dk" style="font-size:9.5px" textLength="5.30" lengthAdjust="spacingAndGlyphs">1</text><text transform="translate(460.91,221.30) scale(1,1.0)" class="dk" style="font-size:6.6px" textLength="5.96" lengthAdjust="spacingAndGlyphs">st</text><text transform="translate(470.90,224.40) scale(1,1.06)" class="dk" style="font-size:9.5px" textLength="36.83" lengthAdjust="spacingAndGlyphs">year after</text><text transform="translate(389.67,235.60) scale(1,1.06)" class="dk" style="font-size:9.5px" textLength="51.13" lengthAdjust="spacingAndGlyphs">TKI initiation)</text><text transform="translate(191.75,18.70) scale(1,1.0)" class="dk" style="font-size:9.0px;stroke-width:0.2px" textLength="5.02" lengthAdjust="spacingAndGlyphs">0</text><text transform="translate(228.20,18.60) scale(1,1.0)" class="dk" style="font-size:9.0px;stroke-width:0.2px" textLength="5.02" lengthAdjust="spacingAndGlyphs">1</text><text transform="translate(263.55,18.60) scale(1,1.0)" class="dk" style="font-size:9.0px;stroke-width:0.2px" textLength="5.02" lengthAdjust="spacingAndGlyphs">2</text><text transform="translate(298.65,18.60) scale(1,1.0)" class="dk" style="font-size:9.0px;stroke-width:0.2px" textLength="5.02" lengthAdjust="spacingAndGlyphs">3</text><text transform="translate(334.05,18.60) scale(1,1.0)" class="dk" style="font-size:9.0px;stroke-width:0.2px" textLength="5.02" lengthAdjust="spacingAndGlyphs">4</text>
<rect x="175.60" y="10.0" width="11.9" height="11.9" fill="#fffde4" stroke="#1a1a1a" stroke-width="1.05"/><rect x="211.05" y="10.0" width="11.9" height="11.9" fill="#f7ee6a" stroke="#1a1a1a" stroke-width="1.05"/><rect x="246.50" y="10.0" width="11.9" height="11.9" fill="#2eab4e" stroke="#1a1a1a" stroke-width="1.05"/><rect x="281.95" y="10.0" width="11.9" height="11.9" fill="#a8c6ec" stroke="#1a1a1a" stroke-width="1.05"/><rect x="317.40" y="10.0" width="11.9" height="11.9" fill="#9a6fbb" stroke="#1a1a1a" stroke-width="1.05"/>
<line x1="384.0" y1="48.4" x2="326.2" y2="48.4" stroke="#e8962c" stroke-width="1.5" stroke-opacity="0.9"/><path d="M330.2,46.0 L325.5,48.4 L330.2,50.8" fill="none" stroke="#e8962c" stroke-width="1.1" stroke-linejoin="miter"/><line x1="385.6" y1="150.8" x2="326.2" y2="150.8" stroke="#e8962c" stroke-width="1.5" stroke-opacity="0.9"/><path d="M330.2,148.4 L325.5,150.8 L330.2,153.20000000000002" fill="none" stroke="#e8962c" stroke-width="1.1" stroke-linejoin="miter"/><line x1="385.6" y1="189.5" x2="326.2" y2="189.5" stroke="#e8962c" stroke-width="1.5" stroke-opacity="0.9"/><path d="M330.2,187.1 L325.5,189.5 L330.2,191.9" fill="none" stroke="#e8962c" stroke-width="1.1" stroke-linejoin="miter"/><line x1="385.6" y1="214.6" x2="326.2" y2="214.6" stroke="#e8962c" stroke-width="1.5" stroke-opacity="0.9"/><path d="M330.2,212.2 L325.5,214.6 L330.2,217.0" fill="none" stroke="#e8962c" stroke-width="1.1" stroke-linejoin="miter"/><line x1="385.6" y1="242.3" x2="326.2" y2="242.3" stroke="#e8962c" stroke-width="1.5" stroke-opacity="0.9"/><path d="M330.2,239.9 L325.5,242.3 L330.2,244.70000000000002" fill="none" stroke="#e8962c" stroke-width="1.1" stroke-linejoin="miter"/><line x1="385.6" y1="281.8" x2="326.2" y2="281.8" stroke="#e8962c" stroke-width="1.5" stroke-opacity="0.9"/><path d="M330.2,279.40000000000003 L325.5,281.8 L330.2,284.2" fill="none" stroke="#e8962c" stroke-width="1.1" stroke-linejoin="miter"/><line x1="385" y1="150.10000000000002" x2="385" y2="282.5" stroke="#e8962c" stroke-width="1.5" stroke-opacity="0.9"/>
<rect x="0.5" y="0.5" width="519" height="322" fill="none" stroke="#111" stroke-width="1"/>
</svg></body></html>
